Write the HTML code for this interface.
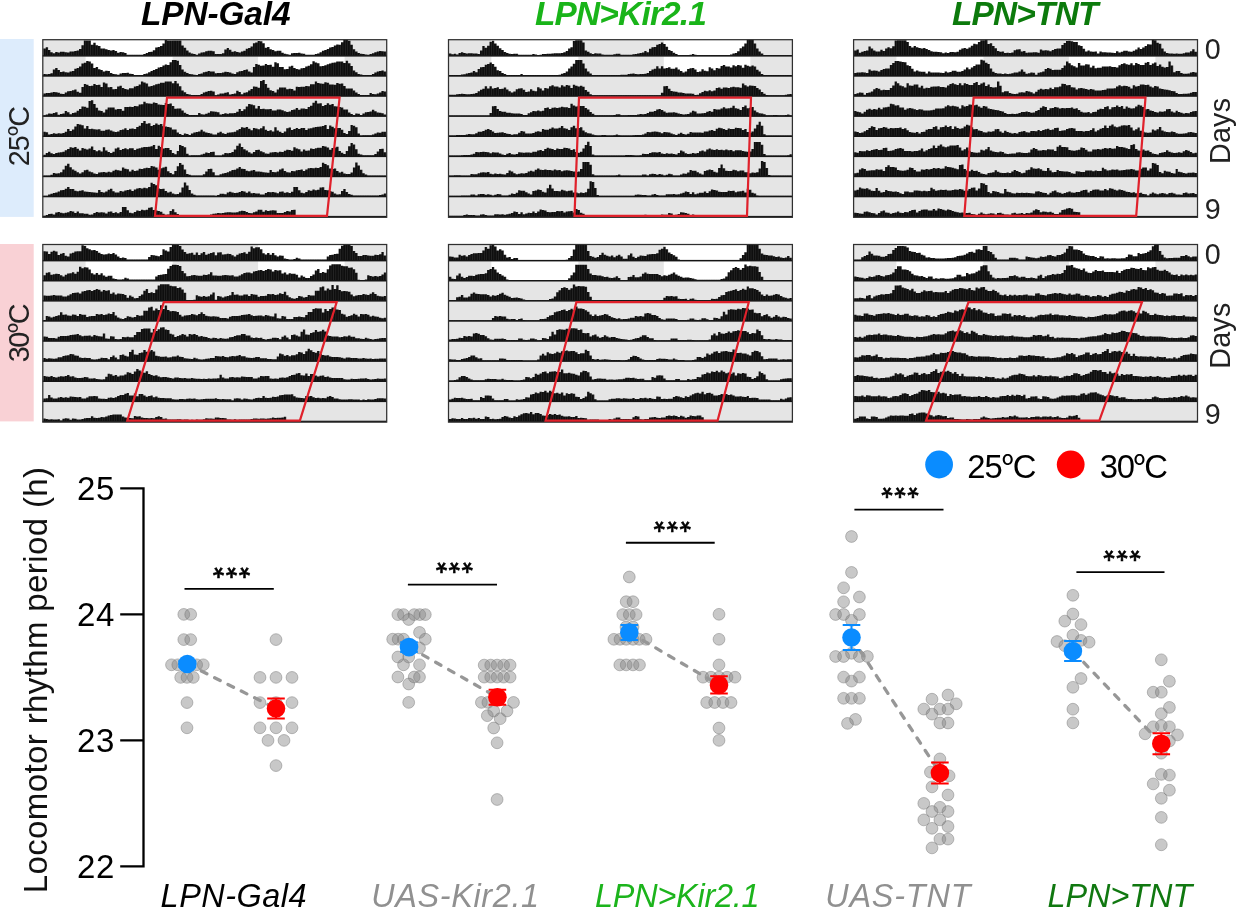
<!DOCTYPE html>
<html><head><meta charset="utf-8"><title>Figure</title>
<style>html,body{margin:0;padding:0;background:#fff}svg{display:block}text{font-family:"Liberation Sans",Arial,sans-serif}</style>
</head><body>
<svg width="1237" height="908" viewBox="0 0 1237 908">
<defs><pattern id="st1" patternUnits="userSpaceOnUse" x="43.30" y="0" width="2.3813" height="10"><rect width="2.3813" height="10" fill="#0e0e0e"/><rect x="1.931" width="0.45" height="10" fill="#363636"/></pattern><pattern id="st2" patternUnits="userSpaceOnUse" x="449.00" y="0" width="2.3812" height="10"><rect width="2.3812" height="10" fill="#0e0e0e"/><rect x="1.931" width="0.45" height="10" fill="#363636"/></pattern><pattern id="st3" patternUnits="userSpaceOnUse" x="854.10" y="0" width="2.3812" height="10"><rect width="2.3812" height="10" fill="#0e0e0e"/><rect x="1.931" width="0.45" height="10" fill="#363636"/></pattern><pattern id="st4" patternUnits="userSpaceOnUse" x="43.30" y="0" width="2.3813" height="10"><rect width="2.3813" height="10" fill="#0e0e0e"/><rect x="1.931" width="0.45" height="10" fill="#363636"/></pattern><pattern id="st5" patternUnits="userSpaceOnUse" x="449.00" y="0" width="2.3812" height="10"><rect width="2.3812" height="10" fill="#0e0e0e"/><rect x="1.931" width="0.45" height="10" fill="#363636"/></pattern><pattern id="st6" patternUnits="userSpaceOnUse" x="854.10" y="0" width="2.3812" height="10"><rect width="2.3812" height="10" fill="#0e0e0e"/><rect x="1.931" width="0.45" height="10" fill="#363636"/></pattern></defs>
<rect width="1237" height="908" fill="#fff"/>
<rect x="42.8" y="39.7" width="343.9" height="176.9" fill="#e5e5e5"/>
<rect x="85.6" y="39.7" width="87.0" height="16.1" fill="#fff"/>
<rect x="258.1" y="39.7" width="86.5" height="16.1" fill="#fff"/>
<rect x="85.6" y="56.5" width="87.0" height="19.4" fill="#fff"/>
<rect x="258.1" y="56.5" width="86.5" height="19.4" fill="#fff"/>
<path d="M43.3 55.8V48.4H45.7V47.2H48.1V50.0H50.4V52.3H52.8V53.3H55.2V52.1H57.6V52.6H60.0V51.8H62.4V51.7H64.7V52.3H67.1V52.6H69.5V51.5H71.9V51.4H74.3V51.0H76.6V50.5H79.0V49.1H81.4V45.3H83.8V40.5H86.2V40.4H88.5V40.4H90.9V44.8H93.3V42.7H95.7V45.2H98.1V46.0H100.5V48.5H102.8V48.5H105.2V49.2H107.6V50.0H110.0V50.6H112.4V49.9H114.7V51.1H117.1V52.7H119.5V51.9H121.9V52.3H124.3V53.1H126.6V54.8H129.0V54.8H131.4V54.8H133.8V54.8H136.2V54.8H138.6V54.8H140.9V54.8H143.3V53.9H145.7V53.1H148.1V52.1H150.5V51.8H152.8V50.2H155.2V47.4H157.6V47.0H160.0V45.9H162.4V43.5H164.7V40.0H167.1V40.6H169.5V40.4H171.9V40.4H174.3V40.4H176.7V40.4H179.0V40.4H181.4V45.5H183.8V47.8H186.2V50.6H188.6V52.4H190.9V53.6H193.3V54.0H195.7V54.8H198.1V53.5H200.5V52.6H202.8V52.3H205.2V51.3H207.6V50.8H210.0V50.8H212.4V51.2H214.8V53.9H217.1V54.1H219.5V54.0H221.9V53.2H224.3V49.4H226.7V47.9H229.0V49.8H231.4V51.8H233.8V51.3H236.2V52.1H238.6V52.4H240.9V51.4H243.3V50.8H245.7V48.7H248.1V47.9H250.5V46.4H252.9V43.3H255.2V42.6H257.6V41.0H260.0V41.3H262.4V43.3H264.8V47.8H267.1V47.0H269.5V49.2H271.9V49.9H274.3V51.3H276.7V50.7H279.0V50.8H281.4V52.8H283.8V53.8H286.2V54.2H288.6V54.7H291.0V53.3H293.3V53.0H295.7V53.0H298.1V52.7H300.5V53.6H302.9V53.8H305.2V54.8H307.6V54.8H310.0V54.8H312.4V54.8H314.8V53.9H317.1V53.5H319.5V52.2H321.9V50.8H324.3V49.9H326.7V49.0H329.1V47.4H331.4V46.9H333.8V45.4H336.2V44.5H338.6V44.8H341.0V42.2H343.3V39.8H345.7V39.8H348.1V40.7H350.5V44.8H352.9V49.3H355.2V51.6H357.6V53.0H360.0V53.8H362.4V54.1H364.8V54.6H367.2V54.8H369.5V53.9H371.9V53.3H374.3V52.2H376.7V51.6H379.1V50.9H381.4V51.3H383.8V51.4H386.2V55.8Z" fill="url(#st1)"/>
<rect x="42.6" y="55.1" width="344.3" height="1.5" fill="#141414"/>
<path d="M43.3 75.9V74.0H45.7V74.2H48.1V74.1H50.4V73.3H52.8V69.5H55.2V68.0H57.6V69.9H60.0V71.9H62.4V71.4H64.7V72.2H67.1V72.5H69.5V71.5H71.9V70.9H74.3V68.8H76.6V68.0H79.0V66.5H81.4V63.4H83.8V62.7H86.2V61.1H88.5V61.4H90.9V63.4H93.3V67.9H95.7V67.1H98.1V69.3H100.5V70.0H102.8V71.4H105.2V70.8H107.6V70.9H110.0V72.9H112.4V73.9H114.7V74.3H117.1V74.8H119.5V73.4H121.9V73.1H124.3V73.1H126.6V72.8H129.0V73.7H131.4V73.9H133.8V74.9H136.2V74.9H138.6V74.9H140.9V74.9H143.3V74.0H145.7V73.6H148.1V72.3H150.5V70.9H152.8V70.0H155.2V69.1H157.6V67.5H160.0V67.0H162.4V65.5H164.7V64.6H167.1V64.9H169.5V62.3H171.9V59.9H174.3V59.9H176.7V60.8H179.0V64.9H181.4V69.4H183.8V71.7H186.2V73.1H188.6V73.9H190.9V74.2H193.3V74.7H195.7V74.9H198.1V74.0H200.5V73.4H202.8V72.3H205.2V71.7H207.6V71.0H210.0V71.4H212.4V71.5H214.8V73.3H217.1V72.9H219.5V73.0H221.9V72.4H224.3V71.8H226.7V72.1H229.0V72.6H231.4V73.6H233.8V74.0H236.2V72.3H238.6V71.2H240.9V70.9H243.3V70.1H245.7V69.5H248.1V71.6H250.5V72.6H252.9V67.0H255.2V63.9H257.6V64.7H260.0V65.8H262.4V65.6H264.8V64.0H267.1V64.9H269.5V64.7H271.9V66.8H274.3V62.3H276.7V63.3H279.0V67.1H281.4V66.9H283.8V69.2H286.2V68.9H288.6V66.4H291.0V65.7H293.3V67.9H295.7V68.9H298.1V69.4H300.5V68.2H302.9V68.1H305.2V66.5H307.6V65.8H310.0V64.3H312.4V61.3H314.8V62.5H317.1V63.3H319.5V66.3H321.9V65.9H324.3V65.2H326.7V64.2H329.1V63.6H331.4V62.7H333.8V62.6H336.2V61.4H338.6V61.4H341.0V61.4H343.3V63.1H345.7V60.8H348.1V63.3H350.5V66.1H352.9V70.4H355.2V72.2H357.6V73.9H360.0V74.5H362.4V74.9H364.8V74.9H367.2V74.9H369.5V74.9H371.9V73.9H374.3V72.4H376.7V71.6H379.1V71.0H381.4V70.6H383.8V71.5H386.2V75.9Z" fill="url(#st1)"/>
<rect x="42.6" y="75.2" width="344.3" height="1.5" fill="#141414"/>
<path d="M43.3 96.0V93.4H45.7V93.0H48.1V93.1H50.4V92.5H52.8V91.9H55.2V92.2H57.6V92.7H60.0V93.7H62.4V94.1H64.7V92.4H67.1V91.3H69.5V91.0H71.9V90.2H74.3V89.6H76.6V91.7H79.0V92.7H81.4V87.1H83.8V84.0H86.2V84.8H88.5V85.9H90.9V85.7H93.3V84.1H95.7V85.0H98.1V84.8H100.5V86.9H102.8V82.4H105.2V83.4H107.6V87.2H110.0V87.0H112.4V89.3H114.7V89.0H117.1V86.5H119.5V85.8H121.9V88.0H124.3V89.0H126.6V89.5H129.0V88.3H131.4V88.2H133.8V86.6H136.2V85.9H138.6V84.4H140.9V81.4H143.3V82.6H145.7V83.4H148.1V86.4H150.5V86.0H152.8V85.3H155.2V84.3H157.6V83.7H160.0V82.8H162.4V82.7H164.7V81.5H167.1V81.5H169.5V81.5H171.9V83.2H174.3V80.9H176.7V83.4H179.0V86.2H181.4V90.5H183.8V92.3H186.2V94.0H188.6V94.6H190.9V95.0H193.3V95.0H195.7V95.0H198.1V95.0H200.5V94.0H202.8V92.5H205.2V91.7H207.6V91.1H210.0V90.7H212.4V91.6H214.8V95.2H217.1V94.5H219.5V93.4H221.9V93.6H224.3V92.8H226.7V92.2H229.0V94.6H231.4V93.9H233.8V93.4H236.2V90.8H238.6V92.1H240.9V94.2H243.3V92.8H245.7V92.3H248.1V90.6H250.5V89.0H252.9V86.4H255.2V86.7H257.6V87.7H260.0V80.9H262.4V80.1H264.8V83.9H267.1V87.7H269.5V90.3H271.9V91.0H274.3V92.5H276.7V89.4H279.0V87.4H281.4V87.5H283.8V87.5H286.2V89.3H288.6V88.8H291.0V88.9H293.3V90.6H295.7V86.8H298.1V87.0H300.5V86.7H302.9V86.8H305.2V85.9H307.6V86.2H310.0V84.3H312.4V84.2H314.8V81.6H317.1V83.1H319.5V83.5H321.9V83.7H324.3V82.3H326.7V82.8H329.1V84.5H331.4V84.6H333.8V84.8H336.2V83.0H338.6V83.8H341.0V83.5H343.3V86.0H345.7V88.6H348.1V88.4H350.5V88.4H352.9V90.5H355.2V92.6H357.6V93.9H360.0V94.9H362.4V95.0H364.8V95.0H367.2V95.0H369.5V93.0H371.9V94.1H374.3V94.3H376.7V93.6H379.1V92.6H381.4V91.1H383.8V91.4H386.2V96.0Z" fill="url(#st1)"/>
<rect x="42.6" y="95.3" width="344.3" height="1.5" fill="#141414"/>
<path d="M43.3 116.1V115.3H45.7V114.6H48.1V113.5H50.4V113.7H52.8V112.9H55.2V112.3H57.6V114.7H60.0V114.0H62.4V113.5H64.7V110.9H67.1V112.2H69.5V114.3H71.9V112.9H74.3V112.4H76.6V110.7H79.0V109.1H81.4V106.5H83.8V106.8H86.2V107.8H88.5V101.0H90.9V100.2H93.3V104.0H95.7V107.8H98.1V110.4H100.5V111.1H102.8V112.6H105.2V109.5H107.6V107.5H110.0V107.6H112.4V107.6H114.7V109.4H117.1V108.9H119.5V109.0H121.9V110.7H124.3V106.9H126.6V107.1H129.0V106.8H131.4V106.9H133.8V106.0H136.2V106.3H138.6V104.4H140.9V104.3H143.3V101.7H145.7V103.2H148.1V103.6H150.5V103.8H152.8V102.4H155.2V102.9H157.6V104.6H160.0V104.7H162.4V104.9H164.7V103.1H167.1V103.9H169.5V103.6H171.9V106.1H174.3V108.7H176.7V108.5H179.0V108.5H181.4V110.6H183.8V112.7H186.2V114.0H188.6V115.0H190.9V115.1H193.3V115.1H195.7V115.1H198.1V113.1H200.5V114.2H202.8V114.4H205.2V113.7H207.6V112.7H210.0V111.2H212.4V111.5H214.8V111.7H217.1V112.2H219.5V114.4H221.9V114.0H224.3V113.2H226.7V113.7H229.0V113.2H231.4V113.3H233.8V112.9H236.2V111.7H238.6V109.0H240.9V111.0H243.3V109.3H245.7V106.5H248.1V104.0H250.5V104.4H252.9V105.2H255.2V108.5H257.6V106.0H260.0V109.0H262.4V108.7H264.8V109.2H267.1V109.3H269.5V109.1H271.9V110.6H274.3V110.6H276.7V109.6H279.0V109.5H281.4V110.3H283.8V111.3H286.2V111.9H288.6V111.4H291.0V110.0H293.3V109.4H295.7V108.1H298.1V109.8H300.5V108.6H302.9V108.4H305.2V108.9H307.6V106.9H310.0V105.7H312.4V102.8H314.8V100.8H317.1V103.6H319.5V103.2H321.9V105.9H324.3V104.9H326.7V103.3H329.1V104.7H331.4V104.0H333.8V106.2H336.2V106.5H338.6V106.9H341.0V107.4H343.3V109.5H345.7V109.4H348.1V112.5H350.5V113.9H352.9V115.0H355.2V113.5H357.6V113.8H360.0V115.0H362.4V113.5H364.8V112.3H367.2V112.0H369.5V111.4H371.9V109.7H374.3V111.3H376.7V112.5H379.1V112.8H381.4V113.3H383.8V114.4H386.2V116.1Z" fill="url(#st1)"/>
<rect x="42.6" y="115.4" width="344.3" height="1.5" fill="#141414"/>
<path d="M43.3 136.2V131.8H45.7V132.3H48.1V134.5H50.4V134.1H52.8V133.3H55.2V133.8H57.6V133.3H60.0V133.4H62.4V133.0H64.7V131.8H67.1V129.1H69.5V131.1H71.9V129.4H74.3V126.6H76.6V124.1H79.0V124.5H81.4V125.3H83.8V128.6H86.2V126.1H88.5V129.1H90.9V128.8H93.3V129.3H95.7V129.4H98.1V129.2H100.5V130.7H102.8V130.7H105.2V129.7H107.6V129.6H110.0V130.4H112.4V131.4H114.7V132.0H117.1V131.5H119.5V130.1H121.9V129.5H124.3V128.2H126.6V129.9H129.0V128.7H131.4V128.5H133.8V129.0H136.2V127.0H138.6V125.8H140.9V122.9H143.3V120.9H145.7V123.7H148.1V123.3H150.5V126.0H152.8V125.0H155.2V123.4H157.6V124.8H160.0V124.1H162.4V126.3H164.7V126.6H167.1V127.0H169.5V127.5H171.9V129.6H174.3V129.5H176.7V132.6H179.0V134.0H181.4V135.1H183.8V133.6H186.2V133.9H188.6V135.1H190.9V133.6H193.3V132.4H195.7V132.1H198.1V131.5H200.5V129.8H202.8V131.4H205.2V132.6H207.6V132.9H210.0V133.4H212.4V134.5H214.8V134.6H217.1V132.8H219.5V131.7H221.9V133.2H224.3V133.9H226.7V132.8H229.0V132.5H231.4V132.2H233.8V131.7H236.2V130.2H238.6V129.0H240.9V127.2H243.3V127.7H245.7V127.0H248.1V128.7H250.5V130.3H252.9V128.0H255.2V128.6H257.6V129.3H260.0V128.3H262.4V126.3H264.8V129.8H267.1V131.1H269.5V130.2H271.9V131.5H274.3V127.2H276.7V130.4H279.0V131.8H281.4V133.0H283.8V131.6H286.2V128.3H288.6V127.4H291.0V129.9H293.3V129.0H295.7V128.1H298.1V129.1H300.5V128.1H302.9V128.1H305.2V130.0H307.6V128.6H310.0V128.2H312.4V127.4H314.8V126.9H317.1V126.8H319.5V126.6H321.9V126.1H324.3V125.0H326.7V128.9H329.1V125.6H331.4V126.8H333.8V128.3H336.2V127.9H338.6V128.0H341.0V129.8H343.3V132.9H345.7V134.1H348.1V131.0H350.5V125.0H352.9V125.8H355.2V127.2H357.6V133.6H360.0V135.4H362.4V135.2H364.8V135.2H367.2V135.2H369.5V135.2H371.9V134.5H374.3V133.6H376.7V132.4H379.1V132.8H381.4V131.8H383.8V131.7H386.2V136.2Z" fill="url(#st1)"/>
<rect x="42.6" y="135.5" width="344.3" height="1.5" fill="#141414"/>
<path d="M43.3 156.3V154.7H45.7V152.9H48.1V151.8H50.4V153.3H52.8V154.0H55.2V152.9H57.6V152.6H60.0V152.3H62.4V151.8H64.7V150.3H67.1V149.1H69.5V147.3H71.9V147.8H74.3V147.1H76.6V148.8H79.0V150.4H81.4V148.1H83.8V148.7H86.2V149.4H88.5V148.4H90.9V146.4H93.3V149.9H95.7V151.2H98.1V150.3H100.5V151.6H102.8V147.3H105.2V150.5H107.6V151.9H110.0V153.1H112.4V151.7H114.7V148.4H117.1V147.5H119.5V150.0H121.9V149.1H124.3V148.2H126.6V149.2H129.0V148.2H131.4V148.2H133.8V150.1H136.2V148.7H138.6V148.3H140.9V147.5H143.3V147.0H145.7V146.9H148.1V146.7H150.5V146.2H152.8V145.1H155.2V149.0H157.6V145.7H160.0V146.9H162.4V148.4H164.7V148.0H167.1V148.1H169.5V149.9H171.9V153.0H174.3V154.2H176.7V151.1H179.0V145.1H181.4V145.9H183.8V147.3H186.2V153.7H188.6V155.5H190.9V155.3H193.3V155.3H195.7V155.3H198.1V155.3H200.5V154.6H202.8V153.7H205.2V152.5H207.6V152.9H210.0V151.9H212.4V151.8H214.8V155.5H217.1V155.5H219.5V155.5H221.9V154.6H224.3V152.9H226.7V153.3H229.0V153.1H231.4V152.1H233.8V149.4H236.2V145.7H238.6V143.6H240.9V147.1H243.3V149.3H245.7V150.6H248.1V152.2H250.5V153.4H252.9V152.1H255.2V150.1H257.6V149.7H260.0V151.3H262.4V152.2H264.8V153.5H267.1V153.8H269.5V152.5H271.9V152.2H274.3V152.0H276.7V152.4H279.0V151.7H281.4V152.1H283.8V150.7H286.2V149.7H288.6V150.1H291.0V150.7H293.3V147.3H295.7V148.6H298.1V149.2H300.5V151.4H302.9V149.6H305.2V150.8H307.6V150.4H310.0V148.6H312.4V148.9H314.8V148.2H317.1V147.7H319.5V147.8H321.9V146.0H324.3V146.4H326.7V147.5H329.1V149.7H331.4V148.1H333.8V147.4H336.2V146.7H338.6V151.1H341.0V152.8H343.3V154.1H345.7V150.9H348.1V146.2H350.5V143.0H352.9V144.6H355.2V149.3H357.6V153.8H360.0V154.6H362.4V155.3H364.8V155.3H367.2V155.3H369.5V155.3H371.9V155.3H374.3V154.1H376.7V151.5H379.1V148.9H381.4V148.7H383.8V152.2H386.2V156.3Z" fill="url(#st1)"/>
<rect x="42.6" y="155.6" width="344.3" height="1.5" fill="#141414"/>
<path d="M43.3 176.4V175.6H45.7V175.6H48.1V175.6H50.4V174.7H52.8V173.0H55.2V173.4H57.6V173.2H60.0V172.2H62.4V169.5H64.7V165.8H67.1V163.7H69.5V167.2H71.9V169.4H74.3V170.7H76.6V172.3H79.0V173.5H81.4V172.2H83.8V170.2H86.2V169.8H88.5V171.4H90.9V172.3H93.3V173.6H95.7V173.9H98.1V172.6H100.5V172.3H102.8V172.1H105.2V172.5H107.6V171.8H110.0V172.2H112.4V170.8H114.7V169.8H117.1V170.2H119.5V170.8H121.9V167.4H124.3V168.7H126.6V169.3H129.0V171.5H131.4V169.7H133.8V170.9H136.2V170.5H138.6V168.7H140.9V169.0H143.3V168.3H145.7V167.8H148.1V167.9H150.5V166.1H152.8V166.5H155.2V167.6H157.6V169.8H160.0V168.2H162.4V167.5H164.7V166.8H167.1V171.2H169.5V172.9H171.9V174.2H174.3V171.0H176.7V166.3H179.0V163.1H181.4V164.7H183.8V169.4H186.2V173.9H188.6V174.7H190.9V175.4H193.3V175.4H195.7V175.4H198.1V175.4H200.5V175.4H202.8V174.2H205.2V171.6H207.6V169.0H210.0V168.8H212.4V172.3H214.8V175.6H217.1V175.6H219.5V174.3H221.9V173.6H224.3V173.0H226.7V172.3H229.0V171.3H231.4V170.1H233.8V169.8H236.2V168.6H238.6V167.0H240.9V168.8H243.3V168.9H245.7V170.7H248.1V171.2H250.5V170.6H252.9V170.1H255.2V171.5H257.6V171.6H260.0V171.8H262.4V172.2H264.8V172.4H267.1V172.7H269.5V169.9H271.9V171.9H274.3V172.3H276.7V171.5H279.0V169.6H281.4V168.6H283.8V171.1H286.2V172.3H288.6V172.4H291.0V171.0H293.3V171.3H295.7V170.3H298.1V170.0H300.5V169.5H302.9V170.9H305.2V169.4H307.6V168.3H310.0V168.0H312.4V168.3H314.8V167.7H317.1V168.1H319.5V167.0H321.9V162.7H324.3V164.0H326.7V165.2H329.1V168.4H331.4V168.9H333.8V168.6H336.2V171.0H338.6V172.5H341.0V171.7H343.3V173.4H345.7V174.1H348.1V174.0H350.5V172.5H352.9V167.5H355.2V162.4H357.6V165.5H360.0V169.8H362.4V173.3H364.8V174.6H367.2V175.5H369.5V175.5H371.9V175.5H374.3V175.5H376.7V175.5H379.1V175.5H381.4V175.5H383.8V175.5H386.2V176.4Z" fill="url(#st1)"/>
<rect x="42.6" y="175.7" width="344.3" height="1.5" fill="#141414"/>
<path d="M43.3 196.5V195.7H45.7V195.7H48.1V194.4H50.4V193.7H52.8V193.1H55.2V192.4H57.6V191.4H60.0V190.2H62.4V189.9H64.7V188.7H67.1V187.1H69.5V188.9H71.9V189.0H74.3V190.8H76.6V191.3H79.0V190.7H81.4V190.2H83.8V191.6H86.2V191.7H88.5V191.9H90.9V192.3H93.3V192.5H95.7V192.8H98.1V190.0H100.5V192.0H102.8V192.4H105.2V191.6H107.6V189.7H110.0V188.7H112.4V191.2H114.7V192.4H117.1V192.5H119.5V191.1H121.9V191.4H124.3V190.4H126.6V190.1H129.0V189.6H131.4V191.0H133.8V189.5H136.2V188.4H138.6V188.1H140.9V188.4H143.3V187.8H145.7V188.2H148.1V187.1H150.5V182.8H152.8V184.1H155.2V185.3H157.6V188.5H160.0V189.0H162.4V188.7H164.7V191.1H167.1V192.6H169.5V191.8H171.9V193.5H174.3V194.2H176.7V194.1H179.0V192.6H181.4V187.6H183.8V182.5H186.2V185.6H188.6V189.9H190.9V193.4H193.3V194.7H195.7V195.6H198.1V195.6H200.5V195.6H202.8V195.6H205.2V195.6H207.6V195.6H210.0V195.6H212.4V195.6H214.8V195.7H217.1V194.9H219.5V193.8H221.9V193.7H224.3V194.3H226.7V192.5H229.0V191.8H231.4V192.6H233.8V193.1H236.2V192.7H238.6V192.1H240.9V190.9H243.3V191.4H245.7V192.8H248.1V191.5H250.5V193.2H252.9V193.1H255.2V193.6H257.6V193.6H260.0V194.6H262.4V194.4H264.8V193.0H267.1V191.9H269.5V192.3H271.9V192.1H274.3V192.4H276.7V193.3H279.0V191.7H281.4V191.4H283.8V192.8H286.2V192.2H288.6V193.1H291.0V191.8H293.3V187.0H295.7V186.9H298.1V190.2H300.5V192.7H302.9V193.2H305.2V191.9H307.6V190.3H310.0V190.8H312.4V189.6H314.8V190.2H317.1V189.7H319.5V187.6H321.9V187.2H324.3V189.9H326.7V190.3H329.1V190.9H331.4V191.7H333.8V193.6H336.2V194.6H338.6V194.3H341.0V191.0H343.3V189.1H345.7V192.1H348.1V194.0H350.5V194.8H352.9V195.5H355.2V195.5H357.6V195.5H360.0V195.5H362.4V195.5H364.8V195.5H367.2V195.5H369.5V195.5H371.9V195.5H374.3V195.5H376.7V195.5H379.1V195.0H381.4V194.5H383.8V193.6H386.2V196.5Z" fill="url(#st1)"/>
<rect x="42.6" y="195.8" width="344.3" height="1.5" fill="#141414"/>
<path d="M43.3 216.6V215.8H45.7V215.0H48.1V213.9H50.4V213.8H52.8V214.4H55.2V212.6H57.6V211.9H60.0V212.7H62.4V213.2H64.7V212.8H67.1V212.2H69.5V211.0H71.9V211.5H74.3V212.9H76.6V211.6H79.0V213.3H81.4V213.2H83.8V213.7H86.2V213.7H88.5V214.7H90.9V214.5H93.3V213.1H95.7V212.0H98.1V212.4H100.5V212.2H102.8V212.5H105.2V213.4H107.6V211.8H110.0V211.5H112.4V212.9H114.7V212.3H117.1V213.2H119.5V211.9H121.9V207.1H124.3V207.0H126.6V210.3H129.0V212.8H131.4V213.3H133.8V212.0H136.2V210.4H138.6V210.9H140.9V209.7H143.3V210.3H145.7V209.8H148.1V207.7H150.5V207.3H152.8V210.0H155.2V210.4H157.6V211.0H160.0V211.8H162.4V213.7H164.7V214.7H167.1V214.4H169.5V211.1H171.9V209.2H174.3V212.2H176.7V214.1H179.0V214.9H181.4V215.6H183.8V215.6H186.2V215.6H188.6V215.6H190.9V215.6H193.3V215.6H195.7V215.6H198.1V215.6H200.5V215.6H202.8V215.6H205.2V215.6H207.6V215.1H210.0V214.6H212.4V213.7H214.8V213.6H217.1V212.9H219.5V213.3H221.9V212.9H224.3V212.6H226.7V212.3H229.0V212.3H231.4V212.6H233.8V212.4H236.2V212.3H238.6V211.2H240.9V210.7H243.3V211.0H245.7V211.9H248.1V213.1H250.5V213.3H252.9V212.2H255.2V211.5H257.6V209.7H260.0V209.7H262.4V211.8H264.8V210.2H267.1V211.0H269.5V210.6H271.9V210.3H274.3V210.5H276.7V213.1H279.0V212.9H281.4V213.0H283.8V212.0H286.2V210.9H288.6V211.4H291.0V209.9H293.3V209.7H295.7H295.7V216.6Z" fill="url(#st1)"/>
<rect x="42.6" y="215.9" width="344.3" height="1.5" fill="#141414"/>
<rect x="42.8" y="39.7" width="343.9" height="177.6" fill="none" stroke="#303030" stroke-width="1.25"/>
<polygon points="167.0,97.6 339.6,97.6 327.0,215.8 155.0,215.8" fill="none" stroke="#e0212b" stroke-width="2.2" stroke-linejoin="miter"/>
<rect x="448.5" y="39.7" width="343.9" height="176.9" fill="#e5e5e5"/>
<rect x="491.3" y="39.7" width="87.0" height="16.1" fill="#fff"/>
<rect x="663.8" y="39.7" width="86.5" height="16.1" fill="#fff"/>
<rect x="491.3" y="56.5" width="87.0" height="19.4" fill="#fff"/>
<rect x="663.8" y="56.5" width="86.5" height="19.4" fill="#fff"/>
<path d="M449.0 55.8V53.4H451.4V54.2H453.8V53.7H456.1V54.6H458.5V52.9H460.9V52.3H463.3V52.9H465.7V53.4H468.1V53.3H470.4V53.2H472.8V53.4H475.2V53.5H477.6V53.9H480.0V50.5H482.3V45.9H484.7V47.8H487.1V45.8H489.5V41.8H491.9V40.8H494.2V43.5H496.6V45.7H499.0V48.2H501.4V50.0H503.8V52.1H506.2V53.0H508.5V53.8H510.9V53.9H513.3V53.7H515.7V53.8H518.1V54.8H520.4V54.8H522.8V54.8H525.2V54.8H527.6V54.8H530.0V54.7H532.3V54.0H534.7V54.6H537.1V55.0H539.5V54.7H541.9V53.9H544.2V53.9H546.6V53.8H549.0V53.8H551.4V53.4H553.8V53.2H556.2V53.2H558.5V53.2H560.9V52.9H563.3V52.2H565.7V50.9H568.1V48.4H570.4V47.2H572.8V41.1H575.2V40.3H577.6V40.3H580.0V40.3H582.4V42.6H584.7V50.6H587.1V51.7H589.5V53.3H591.9V53.9H594.3V53.2H596.6V53.6H599.0V53.5H601.4V54.6H603.8V54.8H606.2V54.8H608.5V54.8H610.9V54.8H613.3V54.2H615.7V53.8H618.1V53.8H620.4V54.8H622.8V54.8H625.2V54.8H627.6V54.8H630.0V54.8H632.4V54.3H634.7V54.1H637.1V53.4H639.5V52.9H641.9V52.4H644.3V50.9H646.6V52.2H649.0V48.8H651.4V47.2H653.8V46.9H656.2V44.7H658.5V43.9H660.9V42.5H663.3V43.9H665.7V46.7H668.1V50.1H670.5V51.0H672.8V52.8H675.2V54.0H677.6V55.0H680.0V55.0H682.4V55.0H684.7V55.0H687.1V55.0H689.5V54.8H691.9V53.9H694.3V54.8H696.6V54.9H699.0V54.9H701.4V54.9H703.8V54.9H706.2V54.9H708.6V54.9H710.9V54.9H713.3V54.9H715.7V54.9H718.1V54.9H720.5V54.9H722.8V54.9H725.2V54.9H727.6V54.9H730.0V54.6H732.4V53.6H734.8V53.0H737.1V51.3H739.5V48.3H741.9V46.4H744.3V43.6H746.7V39.8H749.0V39.8H751.4V39.8H753.8V43.4H756.2V48.4H758.6V51.4H760.9V53.5H763.3V54.9H765.7V54.9H768.1V54.9H770.5V54.9H772.9V54.9H775.2V54.9H777.6V54.9H780.0V54.9H782.4V54.9H784.8V54.9H787.1V54.9H789.5V54.9H791.9V55.8Z" fill="url(#st2)"/>
<rect x="448.3" y="55.1" width="344.3" height="1.5" fill="#141414"/>
<path d="M449.0 75.9V74.9H451.4V74.9H453.8V74.9H456.1V74.9H458.5V74.9H460.9V74.4H463.3V74.2H465.7V73.5H468.1V73.0H470.4V72.5H472.8V71.0H475.2V72.3H477.6V68.9H480.0V67.3H482.3V67.0H484.7V64.8H487.1V64.0H489.5V62.6H491.9V64.0H494.2V66.8H496.6V70.2H499.0V71.1H501.4V72.9H503.8V74.1H506.2V75.1H508.5V75.1H510.9V75.1H513.3V75.1H515.7V75.1H518.1V74.9H520.4V74.0H522.8V74.9H525.2V75.0H527.6V75.0H530.0V75.0H532.3V75.0H534.7V75.0H537.1V75.0H539.5V75.0H541.9V75.0H544.2V75.0H546.6V75.0H549.0V75.0H551.4V75.0H553.8V75.0H556.2V75.0H558.5V74.7H560.9V73.7H563.3V73.1H565.7V71.4H568.1V68.4H570.4V66.5H572.8V63.7H575.2V59.9H577.6V59.9H580.0V59.9H582.4V63.5H584.7V68.5H587.1V71.5H589.5V73.6H591.9V75.0H594.3V75.0H596.6V75.0H599.0V75.0H601.4V75.0H603.8V75.0H606.2V75.0H608.5V75.0H610.9V75.0H613.3V75.0H615.7V75.0H618.1V75.0H620.4V74.7H622.8V74.7H625.2V74.7H627.6V74.1H630.0V73.8H632.4V73.6H634.7V73.9H637.1V74.2H639.5V74.1H641.9V74.0H644.3V73.7H646.6V72.9H649.0V71.1H651.4V69.6H653.8V68.7H656.2V66.2H658.5V68.4H660.9V66.2H663.3V68.4H665.7V67.9H668.1V67.2H670.5V68.8H672.8V68.7H675.2V67.4H677.6V69.5H680.0V71.1H682.4V72.5H684.7V71.4H687.1V69.1H689.5V68.3H691.9V68.1H694.3V69.6H696.6V71.9H699.0V71.5H701.4V69.2H703.8V70.7H706.2V71.2H708.6V67.2H710.9V68.4H713.3V70.3H715.7V68.0H718.1V68.5H720.5V66.1H722.8V65.1H725.2V66.4H727.6V66.5H730.0V67.4H732.4V65.2H734.8V66.3H737.1V64.9H739.5V65.4H741.9V67.8H744.3V64.7H746.7V65.7H749.0V66.4H751.4V65.6H753.8V66.6H756.2V69.8H758.6V71.6H760.9V74.1H763.3V75.1H765.7V75.1H768.1V75.1H770.5V75.1H772.9V75.1H775.2V75.1H777.6V75.1H780.0V75.1H782.4V75.1H784.8V75.1H787.1V75.1H789.5V75.1H791.9V75.9Z" fill="url(#st2)"/>
<rect x="448.3" y="75.2" width="344.3" height="1.5" fill="#141414"/>
<path d="M449.0 96.0V94.8H451.4V94.8H453.8V94.8H456.1V94.2H458.5V93.9H460.9V93.7H463.3V94.0H465.7V94.3H468.1V94.2H470.4V94.1H472.8V93.8H475.2V93.0H477.6V91.2H480.0V89.7H482.3V88.8H484.7V86.3H487.1V88.5H489.5V86.3H491.9V88.5H494.2V88.0H496.6V87.3H499.0V88.9H501.4V88.8H503.8V87.5H506.2V89.6H508.5V91.2H510.9V92.6H513.3V91.5H515.7V89.2H518.1V88.4H520.4V88.2H522.8V89.7H525.2V92.0H527.6V91.6H530.0V89.3H532.3V90.8H534.7V91.3H537.1V87.3H539.5V88.5H541.9V90.4H544.2V88.1H546.6V88.6H549.0V86.2H551.4V85.2H553.8V86.5H556.2V86.6H558.5V87.5H560.9V85.3H563.3V86.4H565.7V85.0H568.1V85.5H570.4V87.9H572.8V84.8H575.2V85.8H577.6V86.5H580.0V85.7H582.4V86.7H584.7V89.9H587.1V91.7H589.5V94.2H591.9V95.2H594.3V95.2H596.6V95.2H599.0V95.2H601.4V95.2H603.8V95.2H606.2V95.2H608.5V95.2H610.9V95.2H613.3V95.2H615.7V95.2H618.1V95.2H620.4V95.3H622.8V95.3H625.2V95.3H627.6V95.3H630.0V95.3H632.4V95.3H634.7V95.3H637.1V95.3H639.5V95.3H641.9V95.3H644.3V95.3H646.6V95.3H649.0V95.3H651.4V95.3H653.8V95.3H656.2V95.3H658.5V95.3H660.9V92.8H663.3V86.2H665.7V85.9H668.1V88.8H670.5V90.9H672.8V91.6H675.2V91.7H677.6V92.6H680.0V92.6H682.4V93.1H684.7V93.5H687.1V93.4H689.5V93.5H691.9V93.8H694.3V95.0H696.6V94.8H699.0V93.2H701.4V92.1H703.8V90.8H706.2V91.2H708.6V90.3H710.9V91.2H713.3V90.6H715.7V88.0H718.1V87.4H720.5V88.8H722.8V87.6H725.2V87.4H727.6V87.9H730.0V87.3H732.4V86.7H734.8V87.2H737.1V87.2H739.5V87.8H741.9V83.6H744.3V85.3H746.7V86.5H749.0V85.6H751.4V85.8H753.8V86.0H756.2V88.0H758.6V89.4H760.9V92.0H763.3V93.7H765.7V95.1H768.1V95.2H770.5V95.2H772.9V95.2H775.2V95.2H777.6V95.2H780.0V95.2H782.4V95.2H784.8V94.8H787.1V94.2H789.5V94.1H791.9V96.0Z" fill="url(#st2)"/>
<rect x="448.3" y="95.3" width="344.3" height="1.5" fill="#141414"/>
<path d="M449.0 116.1V115.4H451.4V115.4H453.8V115.4H456.1V115.4H458.5V115.4H460.9V115.4H463.3V115.4H465.7V115.4H468.1V115.4H470.4V115.4H472.8V115.4H475.2V115.4H477.6V115.4H480.0V115.4H482.3V115.4H484.7V115.4H487.1V115.4H489.5V112.9H491.9V106.3H494.2V106.0H496.6V108.9H499.0V111.0H501.4V111.7H503.8V111.8H506.2V112.7H508.5V112.7H510.9V113.2H513.3V113.6H515.7V113.5H518.1V113.6H520.4V113.9H522.8V115.1H525.2V114.9H527.6V113.3H530.0V112.2H532.3V110.9H534.7V111.3H537.1V110.4H539.5V111.3H541.9V110.7H544.2V108.1H546.6V107.5H549.0V108.9H551.4V107.7H553.8V107.5H556.2V108.0H558.5V107.4H560.9V106.8H563.3V107.3H565.7V107.3H568.1V107.9H570.4V103.7H572.8V105.4H575.2V106.6H577.6V105.7H580.0V105.9H582.4V106.1H584.7V108.1H587.1V109.5H589.5V112.1H591.9V113.8H594.3V115.2H596.6V115.3H599.0V115.3H601.4V115.3H603.8V115.3H606.2V115.3H608.5V115.3H610.9V115.3H613.3V114.9H615.7V114.3H618.1V114.2H620.4V115.3H622.8V115.3H625.2V115.3H627.6V114.9H630.0V114.9H632.4V114.9H634.7V114.9H637.1V114.5H639.5V114.0H641.9V114.2H644.3V114.1H646.6V113.1H649.0V111.7H651.4V111.7H653.8V110.9H656.2V109.6H658.5V109.0H660.9V110.0H663.3V111.4H665.7V112.8H668.1V112.6H670.5V112.4H672.8V112.2H675.2V112.8H677.6V113.6H680.0V114.0H682.4V114.6H684.7V114.2H687.1V114.1H689.5V112.6H691.9V110.8H694.3V111.5H696.6V113.5H699.0V113.4H701.4V113.3H703.8V113.0H706.2V111.7H708.6V111.1H710.9V111.7H713.3V108.9H715.7V109.6H718.1V109.6H720.5V108.6H722.8V107.3H725.2V108.5H727.6V108.3H730.0V107.7H732.4V105.8H734.8V108.2H737.1V108.7H739.5V109.9H741.9V107.1H744.3V105.6H746.7V108.2H749.0V107.8H751.4V107.1H753.8V110.4H756.2V112.2H758.6V113.2H760.9V113.4H763.3V114.3H765.7V115.2H768.1V115.3H770.5V115.3H772.9V114.9H775.2V115.0H777.6V115.3H780.0V115.3H782.4V115.3H784.8V115.1H787.1V114.5H789.5V115.2H791.9V116.1Z" fill="url(#st2)"/>
<rect x="448.3" y="115.4" width="344.3" height="1.5" fill="#141414"/>
<path d="M449.0 136.2V135.4H451.4V135.4H453.8V135.4H456.1V135.0H458.5V135.0H460.9V135.0H463.3V135.0H465.7V134.6H468.1V134.1H470.4V134.3H472.8V134.2H475.2V133.2H477.6V131.8H480.0V131.8H482.3V131.0H484.7V129.7H487.1V129.1H489.5V130.1H491.9V131.5H494.2V132.9H496.6V132.7H499.0V132.5H501.4V132.3H503.8V132.9H506.2V133.7H508.5V134.1H510.9V134.7H513.3V134.3H515.7V134.2H518.1V132.7H520.4V130.9H522.8V131.6H525.2V133.6H527.6V133.5H530.0V133.4H532.3V133.1H534.7V131.8H537.1V131.2H539.5V131.8H541.9V129.0H544.2V129.7H546.6V129.7H549.0V128.7H551.4V127.4H553.8V128.6H556.2V128.4H558.5V127.8H560.9V125.9H563.3V128.3H565.7V128.8H568.1V130.0H570.4V127.2H572.8V125.7H575.2V128.3H577.6V127.9H580.0V127.2H582.4V130.5H584.7V132.3H587.1V133.3H589.5V133.5H591.9V134.4H594.3V135.3H596.6V135.4H599.0V135.4H601.4V135.0H603.8V135.1H606.2V135.4H608.5V135.4H610.9V135.4H613.3V135.2H615.7V134.6H618.1V135.3H620.4V135.4H622.8V135.4H625.2V135.4H627.6V135.4H630.0V135.4H632.4V135.2H634.7V135.0H637.1V135.0H639.5V135.0H641.9V134.5H644.3V133.6H646.6V131.9H649.0V132.2H651.4V131.8H653.8V131.6H656.2V131.8H658.5V132.2H660.9V133.2H663.3V132.1H665.7V132.3H668.1V132.5H670.5V133.4H672.8V134.3H675.2V135.0H677.6V133.7H680.0V132.8H682.4V134.1H684.7V134.5H687.1V133.8H689.5V132.1H691.9V132.5H694.3V132.6H696.6V132.5H699.0V132.4H701.4V132.7H703.8V131.6H706.2V131.6H708.6V130.5H710.9V129.9H713.3V131.0H715.7V128.8H718.1V127.7H720.5V128.3H722.8V129.0H725.2V129.9H727.6V128.5H730.0V129.0H732.4V128.9H734.8V127.7H737.1V127.9H739.5V128.3H741.9V129.9H744.3V129.1H746.7V132.0H749.0V132.7H751.4V131.6H753.8V128.5H756.2V124.8H758.6V121.7H760.9V125.8H763.3V134.3H765.7V135.4H768.1V135.4H770.5V135.4H772.9V135.4H775.2V135.4H777.6V135.4H780.0V135.4H782.4V135.4H784.8V135.4H787.1V135.4H789.5V135.4H791.9V136.2Z" fill="url(#st2)"/>
<rect x="448.3" y="135.5" width="344.3" height="1.5" fill="#141414"/>
<path d="M449.0 156.3V155.5H451.4V155.5H453.8V155.5H456.1V155.5H458.5V155.5H460.9V155.3H463.3V155.1H465.7V155.1H468.1V155.1H470.4V154.6H472.8V153.7H475.2V152.0H477.6V152.3H480.0V151.9H482.3V151.7H484.7V151.9H487.1V152.3H489.5V153.3H491.9V152.2H494.2V152.4H496.6V152.6H499.0V153.5H501.4V154.4H503.8V155.1H506.2V153.8H508.5V152.9H510.9V154.2H513.3V154.6H515.7V153.9H518.1V152.2H520.4V152.6H522.8V152.7H525.2V152.6H527.6V152.5H530.0V152.8H532.3V151.7H534.7V151.7H537.1V150.6H539.5V150.0H541.9V151.1H544.2V148.9H546.6V147.8H549.0V148.4H551.4V149.1H553.8V150.0H556.2V148.6H558.5V149.1H560.9V149.0H563.3V147.8H565.7V148.0H568.1V148.4H570.4V150.0H572.8V149.2H575.2V152.1H577.6V152.8H580.0V151.7H582.4V148.6H584.7V144.9H587.1V141.8H589.5V145.9H591.9V154.4H594.3V155.5H596.6V155.5H599.0V155.5H601.4V155.5H603.8V155.5H606.2V155.5H608.5V155.5H610.9V155.5H613.3V155.5H615.7V155.5H618.1V155.5H620.4V155.5H622.8V155.5H625.2V155.1H627.6V155.1H630.0V155.1H632.4V155.3H634.7V155.5H637.1V155.5H639.5V155.3H641.9V153.8H644.3V154.1H646.6V154.1H649.0V153.1H651.4V152.3H653.8V152.2H656.2V152.4H658.5V152.0H660.9V153.6H663.3V154.1H665.7V153.3H668.1V153.8H670.5V153.6H672.8V154.1H675.2V154.4H677.6V152.9H680.0V150.4H682.4V151.4H684.7V153.2H687.1V154.1H689.5V153.7H691.9V153.1H694.3V153.5H696.6V152.9H699.0V151.3H701.4V150.6H703.8V151.4H706.2V149.6H708.6V148.4H710.9V149.6H713.3V149.9H715.7V149.3H718.1V149.9H720.5V149.8H722.8V150.3H725.2V149.4H727.6V150.2H730.0V149.9H732.4V151.2H734.8V150.3H737.1V150.2H739.5V150.3H741.9V151.0H744.3V151.5H746.7V151.8H749.0V151.4H751.4V148.9H753.8V141.9H756.2V141.9H758.6V141.9H760.9V144.7H763.3V154.1H765.7V155.5H768.1V155.5H770.5V155.5H772.9V155.5H775.2V155.5H777.6V155.5H780.0V155.5H782.4V155.5H784.8V155.5H787.1V155.2H789.5V154.3H791.9V156.3Z" fill="url(#st2)"/>
<rect x="448.3" y="155.6" width="344.3" height="1.5" fill="#141414"/>
<path d="M449.0 176.4V175.6H451.4V175.6H453.8V175.2H456.1V175.2H458.5V175.2H460.9V175.4H463.3V175.6H465.7V175.6H468.1V175.4H470.4V173.9H472.8V174.2H475.2V174.2H477.6V173.2H480.0V172.4H482.3V172.3H484.7V172.5H487.1V172.1H489.5V173.7H491.9V174.2H494.2V173.4H496.6V173.9H499.0V173.7H501.4V174.2H503.8V174.5H506.2V173.0H508.5V170.5H510.9V171.5H513.3V173.3H515.7V174.2H518.1V173.8H520.4V173.2H522.8V173.6H525.2V173.0H527.6V171.4H530.0V170.7H532.3V171.5H534.7V169.7H537.1V168.5H539.5V169.7H541.9V170.0H544.2V169.4H546.6V170.0H549.0V169.9H551.4V170.4H553.8V169.5H556.2V170.3H558.5V170.0H560.9V171.3H563.3V170.4H565.7V170.3H568.1V170.4H570.4V171.1H572.8V171.6H575.2V171.9H577.6V171.5H580.0V169.0H582.4V162.0H584.7V162.0H587.1V162.0H589.5V164.8H591.9V174.2H594.3V175.6H596.6V175.6H599.0V175.6H601.4V175.6H603.8V175.6H606.2V175.6H608.5V175.6H610.9V175.6H613.3V175.6H615.7V175.3H618.1V174.4H620.4V175.6H622.8V175.6H625.2V175.6H627.6V175.6H630.0V175.6H632.4V175.5H634.7V175.4H637.1V175.4H639.5V175.4H641.9V174.4H644.3V174.5H646.6V175.4H649.0V174.2H651.4V173.8H653.8V173.9H656.2V174.7H658.5V174.1H660.9V174.6H663.3V175.4H665.7V174.7H668.1V173.8H670.5V174.2H672.8V175.4H675.2V175.4H677.6V175.4H680.0V174.6H682.4V173.5H684.7V173.8H687.1V172.6H689.5V170.1H691.9V170.7H694.3V170.7H696.6V172.2H699.0V173.4H701.4V174.5H703.8V171.0H706.2V170.3H708.6V169.4H710.9V169.9H713.3V171.7H715.7V172.4H718.1V168.1H720.5V164.6H722.8V168.3H725.2V170.8H727.6V170.9H730.0V171.1H732.4V169.7H734.8V170.3H737.1V171.2H739.5V170.6H741.9V170.5H744.3V172.3H746.7V172.3H749.0V173.2H751.4V172.5H753.8V172.8H756.2V172.2H758.6V168.6H760.9V161.1H763.3V161.9H765.7V168.0H768.1V174.9H770.5V175.6H772.9V175.6H775.2V175.6H777.6V175.6H780.0V175.6H782.4V175.6H784.8V175.6H787.1V175.6H789.5V175.6H791.9V176.4Z" fill="url(#st2)"/>
<rect x="448.3" y="175.7" width="344.3" height="1.5" fill="#141414"/>
<path d="M449.0 196.5V195.7H451.4V195.7H453.8V195.7H456.1V195.7H458.5V195.7H460.9V195.6H463.3V195.5H465.7V195.5H468.1V195.5H470.4V194.5H472.8V194.6H475.2V195.5H477.6V194.3H480.0V193.9H482.3V194.0H484.7V194.8H487.1V194.2H489.5V194.7H491.9V195.5H494.2V194.8H496.6V193.9H499.0V194.3H501.4V195.5H503.8V195.5H506.2V195.5H508.5V194.7H510.9V193.6H513.3V193.9H515.7V192.7H518.1V190.2H520.4V190.8H522.8V190.8H525.2V192.3H527.6V193.5H530.0V194.6H532.3V191.1H534.7V190.4H537.1V189.5H539.5V190.0H541.9V191.8H544.2V192.5H546.6V188.2H549.0V184.7H551.4V188.4H553.8V190.9H556.2V191.0H558.5V191.2H560.9V189.8H563.3V190.4H565.7V191.3H568.1V190.7H570.4V190.6H572.8V192.4H575.2V192.4H577.6V193.3H580.0V192.6H582.4V192.9H584.7V192.3H587.1V188.7H589.5V181.2H591.9V182.0H594.3V188.1H596.6V195.0H599.0V195.7H601.4V195.7H603.8V195.7H606.2V195.7H608.5V195.7H610.9V195.7H613.3V195.7H615.7V195.7H618.1V195.7H620.4V195.7H622.8V195.7H625.2V195.7H627.6V195.7H630.0V195.7H632.4V195.7H634.7V194.8H637.1V194.4H639.5V194.8H641.9V194.9H644.3V194.9H646.6V195.5H649.0V195.5H651.4V194.4H653.8V194.1H656.2V194.9H658.5V195.5H660.9V195.5H663.3V195.5H665.7V194.2H668.1V194.2H670.5V194.3H672.8V194.1H675.2V194.6H677.6V194.2H680.0V193.6H682.4V192.8H684.7V191.5H687.1V191.9H689.5V194.0H691.9V192.2H694.3V194.2H696.6V193.4H699.0V192.7H701.4V192.8H703.8V191.5H706.2V193.0H708.6V191.3H710.9V189.4H713.3V190.0H715.7V190.5H718.1V191.8H720.5V192.1H722.8V192.0H725.2V191.9H727.6V190.8H730.0V191.1H732.4V190.8H734.8V192.3H737.1V191.5H739.5V191.2H741.9V190.8H744.3V192.4H746.7V188.8H749.0V189.8H751.4V192.7H753.8V193.6H756.2V195.6H758.6V195.7H760.9V195.7H763.3V195.7H765.7V195.7H768.1V195.7H770.5V195.7H772.9V195.7H775.2V195.7H777.6V195.7H780.0V195.7H782.4V195.7H784.8V195.7H787.1V195.7H789.5V195.7H791.9V196.5Z" fill="url(#st2)"/>
<rect x="448.3" y="195.8" width="344.3" height="1.5" fill="#141414"/>
<path d="M449.0 216.6V215.8H451.4V215.8H453.8V215.8H456.1V215.8H458.5V215.8H460.9V215.8H463.3V214.9H465.7V214.5H468.1V214.9H470.4V215.0H472.8V215.0H475.2V215.6H477.6V215.6H480.0V214.5H482.3V214.2H484.7V215.0H487.1V215.6H489.5V215.6H491.9V215.6H494.2V214.3H496.6V214.3H499.0V214.4H501.4V214.2H503.8V214.7H506.2V214.3H508.5V213.7H510.9V212.9H513.3V211.6H515.7V212.0H518.1V214.1H520.4V212.3H522.8V214.3H525.2V213.5H527.6V212.8H530.0V212.9H532.3V211.6H534.7V213.1H537.1V211.4H539.5V209.5H541.9V210.1H544.2V210.6H546.6V211.9H549.0V212.2H551.4V212.1H553.8V212.0H556.2V210.9H558.5V211.2H560.9V210.9H563.3V212.4H565.7V211.6H568.1V211.3H570.4V210.9H572.8V212.5H575.2V208.9H577.6V209.9H580.0V212.8H582.4V213.7H584.7V215.7H587.1V215.8H589.5V215.8H591.9V215.8H594.3V215.8H596.6V215.8H599.0V215.8H601.4V215.8H603.8V215.8H606.2V215.8H608.5V215.8H610.9V215.8H613.3V215.8H615.7V215.8H618.1V215.8H620.4V215.8H622.8V215.8H625.2V215.8H627.6V215.8H630.0V215.8H632.4V215.8H634.7V215.8H637.1V215.8H639.5V215.7H641.9V215.4H644.3V214.7H646.6V215.5H649.0V215.8H651.4V215.8H653.8V215.8H656.2V215.8H658.5V215.5H660.9V214.6H663.3V214.8H665.7V214.8H668.1V213.0H670.5V213.5H672.8V215.5H675.2V214.7H677.6V213.9H680.0V212.3H682.4V212.6H684.7V213.0H687.1V213.7H689.5V214.9H691.9V214.5H694.3H694.3V216.6Z" fill="url(#st2)"/>
<rect x="448.3" y="215.9" width="344.3" height="1.5" fill="#141414"/>
<rect x="448.5" y="39.7" width="343.9" height="177.6" fill="none" stroke="#303030" stroke-width="1.25"/>
<polygon points="579.0,97.6 751.0,97.6 747.0,215.8 574.5,215.8" fill="none" stroke="#e0212b" stroke-width="2.2" stroke-linejoin="miter"/>
<rect x="853.6" y="39.7" width="343.9" height="176.9" fill="#e5e5e5"/>
<rect x="896.4" y="39.7" width="87.0" height="16.1" fill="#fff"/>
<rect x="1068.9" y="39.7" width="86.5" height="16.1" fill="#fff"/>
<rect x="896.4" y="56.5" width="87.0" height="19.4" fill="#fff"/>
<rect x="1068.9" y="56.5" width="86.5" height="19.4" fill="#fff"/>
<path d="M854.1 55.8V50.4H856.5V49.5H858.9V52.7H861.2V51.7H863.6V51.0H866.0V50.5H868.4V46.5H870.8V48.5H873.2V50.5H875.5V51.5H877.9V51.5H880.3V49.7H882.7V51.0H885.1V48.4H887.4V47.3H889.8V48.3H892.2V46.3H894.6V40.5H897.0V40.3H899.3V40.3H901.7V40.3H904.1V40.3H906.5V42.0H908.9V45.9H911.2V47.4H913.6V46.1H916.0V47.2H918.4V48.1H920.8V48.4H923.2V48.0H925.5V48.9H927.9V49.9H930.3V51.2H932.7V51.8H935.1V51.8H937.4V51.9H939.8V52.3H942.2V53.3H944.6V52.4H947.0V52.9H949.4V52.0H951.7V52.0H954.1V52.3H956.5V51.8H958.9V49.8H961.3V48.5H963.6V47.9H966.0V48.8H968.4V47.6H970.8V45.8H973.2V43.8H975.5V44.2H977.9V41.9H980.3V40.3H982.7V40.3H985.1V39.8H987.5V44.1H989.8V43.3H992.2V46.0H994.6V48.2H997.0V50.9H999.4V51.7H1001.7V51.6H1004.1V53.1H1006.5V52.7H1008.9V52.9H1011.3V52.4H1013.6V50.3H1016.0V49.6H1018.4V49.3H1020.8V51.6H1023.2V50.9H1025.5V52.8H1027.9V52.5H1030.3V52.5H1032.7V52.2H1035.1V52.3H1037.5V52.8H1039.8V49.5H1042.2V50.6H1044.6V50.3H1047.0V50.6H1049.4V51.3H1051.7V50.0H1054.1V48.9H1056.5V48.4H1058.9V48.4H1061.3V44.9H1063.6V43.0H1066.0V40.9H1068.4V40.8H1070.8V41.3H1073.2V42.0H1075.6V42.1H1077.9V45.2H1080.3V46.0H1082.7V48.7H1085.1V51.5H1087.5V50.4H1089.8V51.4H1092.2V51.7H1094.6V51.6H1097.0V53.4H1099.4V51.5H1101.8V52.3H1104.1V52.3H1106.5V52.4H1108.9V52.5H1111.3V52.7H1113.7V53.0H1116.0V51.3H1118.4V52.4H1120.8V51.8H1123.2V50.7H1125.6V50.7H1127.9V51.6H1130.3V51.7H1132.7V50.8H1135.1V49.5H1137.5V47.5H1139.8V49.1H1142.2V47.5H1144.6V45.9H1147.0V44.3H1149.4V44.4H1151.8V39.7H1154.1V40.3H1156.5V42.7H1158.9V43.8H1161.3V48.5H1163.7V51.6H1166.0V52.9H1168.4V53.5H1170.8V53.4H1173.2V53.8H1175.6V53.4H1177.9V53.8H1180.3V53.7H1182.7V53.2H1185.1V52.4H1187.5V52.5H1189.9V51.3H1192.2V49.3H1194.6V51.7H1197.0V55.8Z" fill="url(#st3)"/>
<rect x="853.4" y="55.1" width="344.3" height="1.5" fill="#141414"/>
<path d="M854.1 75.9V72.9H856.5V72.6H858.9V72.6H861.2V72.3H863.6V72.4H866.0V72.9H868.4V69.6H870.8V70.7H873.2V70.4H875.5V70.7H877.9V71.4H880.3V70.1H882.7V69.0H885.1V68.5H887.4V68.5H889.8V65.0H892.2V63.1H894.6V61.0H897.0V60.9H899.3V61.4H901.7V62.1H904.1V62.2H906.5V65.3H908.9V66.1H911.2V68.8H913.6V71.6H916.0V70.5H918.4V71.5H920.8V71.8H923.2V71.7H925.5V73.5H927.9V71.6H930.3V72.4H932.7V72.4H935.1V72.5H937.4V72.6H939.8V72.8H942.2V73.1H944.6V71.4H947.0V72.5H949.4V71.9H951.7V70.8H954.1V70.8H956.5V71.7H958.9V71.8H961.3V70.9H963.6V69.6H966.0V67.6H968.4V69.2H970.8V67.6H973.2V66.0H975.5V64.4H977.9V64.5H980.3V59.8H982.7V60.4H985.1V62.8H987.5V63.9H989.8V68.6H992.2V71.7H994.6V73.0H997.0V73.6H999.4V73.5H1001.7V73.9H1004.1V73.5H1006.5V73.9H1008.9V73.8H1011.3V73.3H1013.6V72.5H1016.0V72.6H1018.4V71.4H1020.8V69.4H1023.2V71.8H1025.5V73.8H1027.9V73.2H1030.3V72.5H1032.7V72.7H1035.1V74.7H1037.5V72.8H1039.8V72.3H1042.2V71.5H1044.6V69.1H1047.0V68.0H1049.4V68.7H1051.7V70.1H1054.1V69.7H1056.5V69.8H1058.9V69.8H1061.3V68.0H1063.6V65.4H1066.0V61.4H1068.4V63.2H1070.8V65.3H1073.2V66.2H1075.6V67.5H1077.9V63.1H1080.3V65.4H1082.7V65.6H1085.1V64.3H1087.5V64.4H1089.8V67.4H1092.2V65.7H1094.6V68.3H1097.0V67.7H1099.4V67.8H1101.8V66.6H1104.1V66.5H1106.5V66.5H1108.9V66.2H1111.3V67.0H1113.7V67.0H1116.0V67.5H1118.4V65.3H1120.8V63.9H1123.2V63.2H1125.6V64.2H1127.9V64.8H1130.3V63.2H1132.7V65.2H1135.1V63.1H1137.5V64.0H1139.8V64.9H1142.2V65.0H1144.6V62.8H1147.0V62.0H1149.4V65.0H1151.8V63.5H1154.1V62.5H1156.5V66.0H1158.9V64.4H1161.3V66.8H1163.7V67.5H1166.0V67.1H1168.4V61.4H1170.8V65.6H1173.2V72.2H1175.6V71.1H1177.9V71.1H1180.3V72.9H1182.7V73.7H1185.1V73.8H1187.5V73.6H1189.9V72.4H1192.2V72.1H1194.6V72.5H1197.0V75.9Z" fill="url(#st3)"/>
<rect x="853.4" y="75.2" width="344.3" height="1.5" fill="#141414"/>
<path d="M854.1 96.0V93.9H856.5V93.3H858.9V92.6H861.2V92.8H863.6V94.8H866.0V92.9H868.4V92.4H870.8V91.6H873.2V89.2H875.5V88.1H877.9V88.8H880.3V90.2H882.7V89.8H885.1V89.9H887.4V89.9H889.8V88.1H892.2V85.5H894.6V81.5H897.0V83.3H899.3V85.4H901.7V86.3H904.1V87.6H906.5V83.2H908.9V85.5H911.2V85.7H913.6V84.4H916.0V84.5H918.4V87.5H920.8V85.8H923.2V88.4H925.5V87.8H927.9V87.9H930.3V86.7H932.7V86.6H935.1V86.6H937.4V86.3H939.8V87.1H942.2V87.1H944.6V87.6H947.0V85.4H949.4V84.0H951.7V83.3H954.1V84.3H956.5V84.9H958.9V83.3H961.3V85.3H963.6V83.2H966.0V84.1H968.4V85.0H970.8V85.1H973.2V82.9H975.5V82.1H977.9V85.1H980.3V83.6H982.7V82.6H985.1V86.1H987.5V84.5H989.8V86.9H992.2V87.6H994.6V87.2H997.0V81.5H999.4V85.7H1001.7V92.3H1004.1V91.2H1006.5V91.2H1008.9V93.0H1011.3V93.8H1013.6V93.9H1016.0V93.7H1018.4V92.5H1020.8V92.2H1023.2V92.6H1025.5V90.9H1027.9V91.6H1030.3V92.2H1032.7V93.5H1035.1V91.7H1037.5V89.7H1039.8V88.7H1042.2V89.6H1044.6V88.9H1047.0V89.3H1049.4V87.7H1051.7V89.1H1054.1V87.3H1056.5V87.2H1058.9V86.6H1061.3V83.7H1063.6V84.1H1066.0V85.3H1068.4V85.1H1070.8V87.3H1073.2V87.5H1075.6V89.6H1077.9V88.3H1080.3V87.9H1082.7V88.4H1085.1V89.1H1087.5V89.8H1089.8V89.1H1092.2V89.5H1094.6V90.5H1097.0V90.4H1099.4V90.5H1101.8V90.1H1104.1V89.7H1106.5V88.4H1108.9V88.4H1111.3V88.4H1113.7V88.2H1116.0V86.4H1118.4V85.2H1120.8V86.2H1123.2V85.7H1125.6V86.1H1127.9V86.7H1130.3V88.4H1132.7V85.2H1135.1V86.5H1137.5V86.0H1139.8V84.5H1142.2V84.6H1144.6V85.1H1147.0V84.7H1149.4V86.4H1151.8V87.6H1154.1V85.9H1156.5V86.4H1158.9V88.4H1161.3V88.9H1163.7V89.4H1166.0V89.8H1168.4V90.2H1170.8V90.9H1173.2V91.3H1175.6V92.9H1177.9V93.9H1180.3V94.0H1182.7V93.7H1185.1V93.8H1187.5V93.6H1189.9V92.8H1192.2V92.0H1194.6V92.0H1197.0V96.0Z" fill="url(#st3)"/>
<rect x="853.4" y="95.3" width="344.3" height="1.5" fill="#141414"/>
<path d="M854.1 116.1V111.0H856.5V111.7H858.9V112.3H861.2V113.6H863.6V111.8H866.0V109.8H868.4V108.8H870.8V109.7H873.2V109.0H875.5V109.4H877.9V107.8H880.3V109.2H882.7V107.4H885.1V107.3H887.4V106.7H889.8V103.8H892.2V104.2H894.6V105.4H897.0V105.2H899.3V107.4H901.7V107.6H904.1V109.7H906.5V108.4H908.9V108.0H911.2V108.5H913.6V109.2H916.0V109.9H918.4V109.2H920.8V109.6H923.2V110.6H925.5V110.5H927.9V110.6H930.3V110.2H932.7V109.8H935.1V108.5H937.4V108.5H939.8V108.5H942.2V108.3H944.6V106.5H947.0V105.3H949.4V106.3H951.7V105.8H954.1V106.2H956.5V106.8H958.9V108.5H961.3V105.3H963.6V106.6H966.0V106.1H968.4V104.6H970.8V104.7H973.2V105.2H975.5V104.8H977.9V106.5H980.3V107.7H982.7V106.0H985.1V106.5H987.5V108.5H989.8V109.0H992.2V109.5H994.6V109.9H997.0V110.3H999.4V111.0H1001.7V111.4H1004.1V113.0H1006.5V114.0H1008.9V114.1H1011.3V113.8H1013.6V113.9H1016.0V113.7H1018.4V112.9H1020.8V112.1H1023.2V112.1H1025.5V111.4H1027.9V112.0H1030.3V112.8H1032.7V112.4H1035.1V111.1H1037.5V110.0H1039.8V107.8H1042.2V106.2H1044.6V106.9H1047.0V109.9H1049.4V108.2H1051.7V108.0H1054.1V107.0H1056.5V107.5H1058.9V108.6H1061.3V107.9H1063.6V108.2H1066.0V108.0H1068.4V107.9H1070.8V107.5H1073.2V108.8H1075.6V108.2H1077.9V110.1H1080.3V111.8H1082.7V112.4H1085.1V112.6H1087.5V112.0H1089.8V113.3H1092.2V111.9H1094.6V111.7H1097.0V109.7H1099.4V108.8H1101.8V109.0H1104.1V106.9H1106.5V106.2H1108.9V109.3H1111.3V107.2H1113.7V106.9H1116.0V105.5H1118.4V106.9H1120.8V105.9H1123.2V108.8H1125.6V106.5H1127.9V107.8H1130.3V108.6H1132.7V108.2H1135.1V106.5H1137.5V104.7H1139.8V105.5H1142.2V107.1H1144.6V109.2H1147.0V108.9H1149.4V110.4H1151.8V110.9H1154.1V112.1H1156.5V112.4H1158.9V111.5H1161.3V111.7H1163.7V111.2H1166.0V109.2H1168.4V108.9H1170.8V111.5H1173.2V112.6H1175.6V110.7H1177.9V112.0H1180.3V112.7H1182.7V113.4H1185.1V112.9H1187.5V113.3H1189.9V111.9H1192.2V111.3H1194.6V111.0H1197.0V116.1Z" fill="url(#st3)"/>
<rect x="853.4" y="115.4" width="344.3" height="1.5" fill="#141414"/>
<path d="M854.1 136.2V131.5H856.5V132.1H858.9V132.9H861.2V132.5H863.6V131.2H866.0V130.1H868.4V127.9H870.8V126.3H873.2V127.0H875.5V130.0H877.9V128.3H880.3V128.1H882.7V127.1H885.1V127.6H887.4V128.7H889.8V128.0H892.2V128.3H894.6V128.1H897.0V128.0H899.3V127.6H901.7V128.9H904.1V128.3H906.5V130.2H908.9V131.9H911.2V132.5H913.6V132.7H916.0V132.1H918.4V133.4H920.8V132.0H923.2V131.8H925.5V129.8H927.9V128.9H930.3V129.1H932.7V127.0H935.1V126.3H937.4V129.4H939.8V127.3H942.2V127.0H944.6V125.6H947.0V127.0H949.4V126.0H951.7V128.9H954.1V126.6H956.5V127.9H958.9V128.7H961.3V128.3H963.6V126.6H966.0V124.8H968.4V125.6H970.8V127.2H973.2V129.3H975.5V129.0H977.9V130.5H980.3V131.0H982.7V132.2H985.1V132.5H987.5V131.6H989.8V131.8H992.2V131.3H994.6V129.3H997.0V129.0H999.4V131.6H1001.7V132.7H1004.1V130.8H1006.5V132.1H1008.9V132.8H1011.3V133.5H1013.6V133.0H1016.0V133.4H1018.4V132.0H1020.8V131.4H1023.2V131.1H1025.5V132.2H1027.9V132.6H1030.3V131.0H1032.7V131.1H1035.1V131.2H1037.5V130.1H1039.8V131.0H1042.2V130.0H1044.6V129.3H1047.0V128.8H1049.4V129.9H1051.7V129.6H1054.1V128.0H1056.5V127.7H1058.9V131.0H1061.3V130.6H1063.6V130.2H1066.0V129.0H1068.4V128.3H1070.8V128.0H1073.2V128.6H1075.6V131.0H1077.9V131.0H1080.3V131.0H1082.7V131.4H1085.1V131.0H1087.5V131.0H1089.8V130.1H1092.2V128.3H1094.6V131.4H1097.0V130.2H1099.4V128.8H1101.8V128.1H1104.1V125.4H1106.5V128.0H1108.9V125.7H1111.3V124.4H1113.7V126.4H1116.0V127.2H1118.4V126.5H1120.8V125.5H1123.2V125.3H1125.6V125.4H1127.9V124.9H1130.3V127.5H1132.7V130.5H1135.1V129.2H1137.5V127.5H1139.8V130.7H1142.2V131.8H1144.6V132.5H1147.0V132.7H1149.4V132.4H1151.8V129.6H1154.1V130.4H1156.5V129.2H1158.9V127.0H1161.3V130.4H1163.7V131.4H1166.0V132.0H1168.4V132.2H1170.8V131.4H1173.2V132.0H1175.6V133.3H1177.9V133.8H1180.3V133.7H1182.7V133.5H1185.1V133.3H1187.5V132.3H1189.9V132.1H1192.2V132.6H1194.6V133.0H1197.0V136.2Z" fill="url(#st3)"/>
<rect x="853.4" y="135.5" width="344.3" height="1.5" fill="#141414"/>
<path d="M854.1 156.3V152.3H856.5V152.7H858.9V151.1H861.2V151.2H863.6V151.3H866.0V150.2H868.4V151.1H870.8V150.1H873.2V149.4H875.5V148.9H877.9V150.0H880.3V149.7H882.7V148.1H885.1V147.8H887.4V151.1H889.8V150.7H892.2V150.3H894.6V149.1H897.0V148.4H899.3V148.1H901.7V148.7H904.1V151.1H906.5V151.1H908.9V151.1H911.2V151.5H913.6V151.1H916.0V151.1H918.4V150.2H920.8V148.4H923.2V151.5H925.5V150.3H927.9V148.9H930.3V148.2H932.7V145.5H935.1V148.1H937.4V145.8H939.8V144.5H942.2V146.5H944.6V147.3H947.0V146.6H949.4V145.6H951.7V145.4H954.1V145.5H956.5V145.0H958.9V147.6H961.3V150.6H963.6V149.3H966.0V147.6H968.4V150.8H970.8V151.9H973.2V152.6H975.5V152.8H977.9V152.5H980.3V149.7H982.7V150.5H985.1V149.3H987.5V147.1H989.8V150.5H992.2V151.5H994.6V152.1H997.0V152.3H999.4V151.5H1001.7V152.1H1004.1V153.4H1006.5V153.9H1008.9V153.8H1011.3V153.6H1013.6V153.4H1016.0V152.4H1018.4V152.2H1020.8V152.7H1023.2V153.1H1025.5V153.1H1027.9V152.6H1030.3V149.5H1032.7V148.1H1035.1V148.9H1037.5V150.6H1039.8V150.4H1042.2V150.1H1044.6V150.2H1047.0V149.2H1049.4V149.6H1051.7V149.5H1054.1V151.0H1056.5V146.8H1058.9V145.2H1061.3V146.9H1063.6V147.0H1066.0V147.3H1068.4V149.9H1070.8V150.4H1073.2V150.7H1075.6V150.3H1077.9V149.7H1080.3V147.4H1082.7V148.0H1085.1V149.8H1087.5V151.4H1089.8V151.5H1092.2V149.5H1094.6V149.6H1097.0V148.9H1099.4V149.5H1101.8V148.8H1104.1V147.9H1106.5V148.4H1108.9V147.9H1111.3V148.7H1113.7V148.5H1116.0V146.1H1118.4V147.0H1120.8V147.1H1123.2V147.6H1125.6V148.3H1127.9V149.1H1130.3V145.0H1132.7V144.3H1135.1V148.9H1137.5V150.4H1139.8V151.1H1142.2V149.6H1144.6V150.8H1147.0V150.6H1149.4V152.0H1151.8V153.4H1154.1V153.9H1156.5V154.4H1158.9V153.0H1161.3V152.6H1163.7V152.1H1166.0V150.2H1168.4V151.7H1170.8V152.6H1173.2V153.0H1175.6V152.8H1177.9V152.3H1180.3V152.8H1182.7V151.3H1185.1V150.0H1187.5V150.8H1189.9V151.9H1192.2V153.2H1194.6V152.7H1197.0V156.3Z" fill="url(#st3)"/>
<rect x="853.4" y="155.6" width="344.3" height="1.5" fill="#141414"/>
<path d="M854.1 176.4V173.2H856.5V172.7H858.9V169.6H861.2V168.2H863.6V169.0H866.0V170.7H868.4V170.5H870.8V170.2H873.2V170.3H875.5V169.3H877.9V169.7H880.3V169.6H882.7V171.1H885.1V166.9H887.4V165.3H889.8V167.0H892.2V167.1H894.6V167.4H897.0V170.0H899.3V170.5H901.7V170.8H904.1V170.4H906.5V169.8H908.9V167.5H911.2V168.1H913.6V169.9H916.0V171.5H918.4V171.6H920.8V169.6H923.2V169.7H925.5V169.0H927.9V169.6H930.3V168.9H932.7V168.0H935.1V168.5H937.4V168.0H939.8V168.8H942.2V168.6H944.6V166.2H947.0V167.1H949.4V167.2H951.7V167.7H954.1V168.4H956.5V169.2H958.9V165.1H961.3V164.4H963.6V169.0H966.0V170.5H968.4V171.2H970.8V169.7H973.2V170.9H975.5V170.7H977.9V172.1H980.3V173.5H982.7V174.0H985.1V174.5H987.5V173.1H989.8V172.7H992.2V172.2H994.6V170.3H997.0V171.8H999.4V172.7H1001.7V173.1H1004.1V172.9H1006.5V172.4H1008.9V172.9H1011.3V171.4H1013.6V170.1H1016.0V170.9H1018.4V172.0H1020.8V173.3H1023.2V172.8H1025.5V170.3H1027.9V169.7H1030.3V167.3H1032.7V168.4H1035.1V168.7H1037.5V168.2H1039.8V169.3H1042.2V170.7H1044.6V170.9H1047.0V167.9H1049.4V170.6H1051.7V172.3H1054.1V171.9H1056.5V170.0H1058.9V170.9H1061.3V171.2H1063.6V171.6H1066.0V171.4H1068.4V172.0H1070.8V173.2H1073.2V173.8H1075.6V171.3H1077.9V171.4H1080.3V172.1H1082.7V172.1H1085.1V170.4H1087.5V170.5H1089.8V170.6H1092.2V171.2H1094.6V170.6H1097.0V171.1H1099.4V170.9H1101.8V167.7H1104.1V169.2H1106.5V170.6H1108.9V170.2H1111.3V169.6H1113.7V169.8H1116.0V169.6H1118.4V170.5H1120.8V170.3H1123.2V170.0H1125.6V169.5H1127.9V169.6H1130.3V168.9H1132.7V169.4H1135.1V170.6H1137.5V170.5H1139.8V168.8H1142.2V167.6H1144.6V167.5H1147.0V170.4H1149.4V168.4H1151.8V162.9H1154.1V163.4H1156.5V164.9H1158.9V172.0H1161.3V173.2H1163.7V170.8H1166.0V171.5H1168.4V171.8H1170.8V173.1H1173.2V173.4H1175.6V169.0H1177.9V171.7H1180.3V172.2H1182.7V173.1H1185.1V173.5H1187.5V172.7H1189.9V172.8H1192.2V172.6H1194.6V172.9H1197.0V176.4Z" fill="url(#st3)"/>
<rect x="853.4" y="175.7" width="344.3" height="1.5" fill="#141414"/>
<path d="M854.1 196.5V190.4H856.5V189.8H858.9V187.4H861.2V188.5H863.6V188.8H866.0V188.3H868.4V189.4H870.8V190.8H873.2V191.0H875.5V188.0H877.9V190.7H880.3V192.4H882.7V192.0H885.1V190.1H887.4V191.0H889.8V191.3H892.2V191.7H894.6V191.5H897.0V192.1H899.3V193.3H901.7V193.9H904.1V191.4H906.5V191.5H908.9V192.2H911.2V192.2H913.6V190.5H916.0V190.6H918.4V190.7H920.8V191.3H923.2V190.7H925.5V191.2H927.9V191.0H930.3V187.8H932.7V189.3H935.1V190.7H937.4V190.3H939.8V189.7H942.2V189.9H944.6V189.7H947.0V190.6H949.4V190.4H951.7V190.1H954.1V189.6H956.5V189.7H958.9V189.0H961.3V189.5H963.6V190.7H966.0V190.6H968.4V188.9H970.8V187.7H973.2V187.6H975.5V190.5H977.9V188.5H980.3V183.0H982.7V183.5H985.1V185.0H987.5V192.1H989.8V193.3H992.2V190.9H994.6V191.6H997.0V191.9H999.4V193.2H1001.7V193.5H1004.1V189.1H1006.5V191.8H1008.9V192.3H1011.3V193.2H1013.6V193.6H1016.0V192.8H1018.4V192.9H1020.8V192.7H1023.2V193.0H1025.5V192.7H1027.9V193.0H1030.3V193.3H1032.7V193.6H1035.1V191.6H1037.5V191.3H1039.8V192.1H1042.2V192.8H1044.6V193.1H1047.0V194.4H1049.4V192.8H1051.7V191.2H1054.1V190.4H1056.5V192.3H1058.9V192.7H1061.3V193.7H1063.6V193.0H1066.0V192.3H1068.4V191.4H1070.8V192.6H1073.2V192.8H1075.6V191.9H1077.9V192.1H1080.3V190.8H1082.7V190.0H1085.1V189.7H1087.5V192.4H1089.8V190.9H1092.2V189.7H1094.6V189.5H1097.0V189.5H1099.4V190.4H1101.8V190.4H1104.1V189.0H1106.5V190.3H1108.9V188.3H1111.3V188.8H1113.7V189.7H1116.0V190.5H1118.4V189.5H1120.8V190.0H1123.2V190.8H1125.6V191.7H1127.9V192.1H1130.3V192.7H1132.7V192.3H1135.1V193.2H1137.5V192.9H1139.8V192.7H1142.2V193.9H1144.6V194.2H1147.0V195.4H1149.4V193.7H1151.8V192.5H1154.1V193.6H1156.5V194.2H1158.9V193.6H1161.3V193.1H1163.7V193.4H1166.0V194.3H1168.4V193.0H1170.8V192.7H1173.2V193.6H1175.6V194.5H1177.9V194.4H1180.3V194.7H1182.7V193.1H1185.1V192.6H1187.5V193.6H1189.9V193.3H1192.2V193.0H1194.6V193.9H1197.0V196.5Z" fill="url(#st3)"/>
<rect x="853.4" y="195.8" width="344.3" height="1.5" fill="#141414"/>
<path d="M854.1 216.6V212.8H856.5V213.1H858.9V213.4H861.2V213.7H863.6V211.7H866.0V211.4H868.4V212.2H870.8V212.9H873.2V213.2H875.5V214.5H877.9V212.9H880.3V211.3H882.7V210.5H885.1V212.4H887.4V212.8H889.8V213.8H892.2V213.1H894.6V212.4H897.0V211.5H899.3V212.7H901.7V212.9H904.1V212.0H906.5V212.2H908.9V210.9H911.2V210.1H913.6V209.8H916.0V212.5H918.4V211.0H920.8V209.8H923.2V209.6H925.5V209.6H927.9V210.5H930.3V210.5H932.7V209.1H935.1V210.4H937.4V208.4H939.8V208.9H942.2V209.8H944.6V210.6H947.0V209.6H949.4V210.1H951.7V210.9H954.1V211.8H956.5V212.2H958.9V212.8H961.3V212.4H963.6V213.3H966.0V213.0H968.4V212.8H970.8V214.0H973.2V214.3H975.5V215.5H977.9V213.8H980.3V212.6H982.7V213.7H985.1V214.3H987.5V213.7H989.8V213.2H992.2V213.5H994.6V214.4H997.0V213.1H999.4V212.8H1001.7V213.7H1004.1V214.6H1006.5V214.5H1008.9V214.8H1011.3V213.2H1013.6V212.7H1016.0V213.7H1018.4V213.4H1020.8V213.1H1023.2V214.0H1025.5V213.1H1027.9V213.3H1030.3V212.5H1032.7V210.6H1035.1V209.2H1037.5V209.9H1039.8V212.3H1042.2V211.6H1044.6V211.7H1047.0V212.3H1049.4V211.7H1051.7V212.8H1054.1V214.0H1056.5V213.9H1058.9V212.4H1061.3V210.1H1063.6V209.5H1066.0V208.6H1068.4V207.9H1070.8V208.8H1073.2V211.7H1075.6V212.0H1077.9V212.2H1080.3H1080.3V216.6Z" fill="url(#st3)"/>
<rect x="853.4" y="215.9" width="344.3" height="1.5" fill="#141414"/>
<rect x="853.6" y="39.7" width="343.9" height="177.6" fill="none" stroke="#303030" stroke-width="1.25"/>
<polygon points="973.6,97.6 1145.5,97.6 1136.2,215.8 964.3,215.8" fill="none" stroke="#e0212b" stroke-width="2.2" stroke-linejoin="miter"/>
<rect x="42.8" y="244.5" width="343.9" height="176.9" fill="#e5e5e5"/>
<rect x="85.6" y="244.5" width="87.0" height="16.1" fill="#fff"/>
<rect x="258.1" y="244.5" width="86.5" height="16.1" fill="#fff"/>
<rect x="85.6" y="261.3" width="87.0" height="19.4" fill="#fff"/>
<rect x="258.1" y="261.3" width="86.5" height="19.4" fill="#fff"/>
<path d="M43.3 260.6V251.3H45.7V251.4H48.1V253.9H50.4V251.7H52.8V250.8H55.2V251.6H57.6V255.0H60.0V253.7H62.4V253.1H64.7V255.7H67.1V256.4H69.5V253.5H71.9V252.7H74.3V251.4H76.6V251.2H79.0V251.2H81.4V245.3H83.8V246.0H86.2V248.3H88.5V249.3H90.9V250.2H93.3V250.0H95.7V251.0H98.1V252.8H100.5V254.1H102.8V254.5H105.2V254.2H107.6V253.5H110.0V253.9H112.4V253.0H114.7V254.5H117.1V256.6H119.5V258.0H121.9V257.6H124.3V258.1H126.6V259.4H129.0V259.4H131.4V259.4H133.8V259.4H136.2V259.4H138.6V259.4H140.9V259.4H143.3V259.4H145.7V259.4H148.1V256.9H150.5V255.1H152.8V255.3H155.2V255.8H157.6V256.2H160.0V254.9H162.4V249.2H164.7V250.6H167.1V251.4H169.5V246.9H171.9V244.6H174.3V244.6H176.7V244.6H179.0V245.9H181.4V249.5H183.8V252.0H186.2V253.7H188.6V253.2H190.9V252.7H193.3V254.8H195.7V252.4H198.1V254.9H200.5V253.3H202.8V252.0H205.2V254.8H207.6V253.8H210.0V252.9H212.4V252.2H214.8V255.2H217.1V252.6H219.5V252.2H221.9V254.6H224.3V254.2H226.7V253.7H229.0V253.9H231.4V255.2H233.8V256.5H236.2V254.7H238.6V253.4H240.9V253.1H243.3V252.2H245.7V253.7H248.1V251.7H250.5V246.6H252.9V248.2H255.2V247.2H257.6V247.3H260.0V249.3H262.4V253.2H264.8V254.4H267.1V253.0H269.5V254.7H271.9V253.1H274.3V255.3H276.7V256.6H279.0V255.6H281.4V255.7H283.8V258.5H286.2V258.9H288.6V259.4H291.0V259.4H293.3V259.1H295.7V257.7H298.1V258.4H300.5V259.4H302.9V259.4H305.2V259.4H307.6V259.4H310.0V259.4H312.4V259.4H314.8V259.4H317.1V259.4H319.5V259.4H321.9V259.4H324.3V259.4H326.7V256.4H329.1V255.0H331.4V254.7H333.8V254.1H336.2V253.8H338.6V248.7H341.0V245.8H343.3V244.6H345.7V244.6H348.1V245.0H350.5V245.9H352.9V250.9H355.2V253.1H357.6V256.1H360.0V255.9H362.4V255.1H364.8V254.9H367.2V255.5H369.5V255.7H371.9V255.7H374.3V254.7H376.7V254.9H379.1V254.2H381.4V252.1H383.8V255.4H386.2V260.6Z" fill="url(#st4)"/>
<rect x="42.6" y="259.9" width="344.3" height="1.5" fill="#141414"/>
<path d="M43.3 280.7V275.3H45.7V272.7H48.1V272.3H50.4V274.7H52.8V274.3H55.2V273.8H57.6V274.0H60.0V275.3H62.4V276.6H64.7V274.8H67.1V273.5H69.5V273.2H71.9V272.3H74.3V273.8H76.6V271.8H79.0V266.7H81.4V268.3H83.8V267.3H86.2V267.4H88.5V269.4H90.9V273.3H93.3V274.5H95.7V273.1H98.1V274.8H100.5V273.2H102.8V275.4H105.2V276.7H107.6V275.7H110.0V275.8H112.4V278.6H114.7V279.0H117.1V279.5H119.5V279.5H121.9V279.2H124.3V277.8H126.6V278.5H129.0V279.5H131.4V279.5H133.8V279.5H136.2V279.5H138.6V279.5H140.9V279.5H143.3V279.5H145.7V279.5H148.1V279.5H150.5V279.5H152.8V279.5H155.2V276.5H157.6V275.1H160.0V274.8H162.4V274.2H164.7V273.9H167.1V268.8H169.5V265.9H171.9V264.7H174.3V264.7H176.7V265.1H179.0V266.0H181.4V271.0H183.8V273.2H186.2V276.2H188.6V276.0H190.9V275.2H193.3V275.0H195.7V275.6H198.1V275.8H200.5V275.8H202.8V274.8H205.2V275.0H207.6V274.3H210.0V272.2H212.4V275.5H214.8V275.4H217.1V275.7H219.5V275.7H221.9V275.3H224.3V275.0H226.7V275.3H229.0V275.4H231.4V275.3H233.8V276.4H236.2V276.5H238.6V275.4H240.9V274.2H243.3V272.9H245.7V272.6H248.1V272.4H250.5V273.3H252.9V271.5H255.2V270.9H257.6V270.2H260.0V269.9H262.4V270.9H264.8V269.9H267.1V268.9H269.5V269.6H271.9V271.5H274.3V270.0H276.7V270.6H279.0V270.2H281.4V273.6H283.8V272.5H286.2V274.4H288.6V273.3H291.0V273.7H293.3V273.8H295.7V274.8H298.1V277.6H300.5V275.5H302.9V276.7H305.2V278.1H307.6V277.9H310.0V275.9H312.4V274.5H314.8V270.6H317.1V268.9H319.5V273.0H321.9V272.1H324.3V272.8H326.7V269.3H329.1V265.4H331.4V264.2H333.8V264.2H336.2V264.2H338.6V264.2H341.0V265.7H343.3V266.2H345.7V266.2H348.1V267.8H350.5V267.5H352.9V269.3H355.2V272.7H357.6V279.8H360.0V279.9H362.4V279.9H364.8V279.6H367.2V275.2H369.5V276.1H371.9V276.6H374.3V275.9H376.7V276.6H379.1V276.1H381.4V274.4H383.8V272.5H386.2V280.7Z" fill="url(#st4)"/>
<rect x="42.6" y="280.0" width="344.3" height="1.5" fill="#141414"/>
<path d="M43.3 300.8V295.5H45.7V295.8H48.1V295.8H50.4V295.4H52.8V295.1H55.2V295.4H57.6V295.5H60.0V295.4H62.4V296.5H64.7V296.6H67.1V295.5H69.5V294.3H71.9V293.0H74.3V292.7H76.6V292.5H79.0V293.4H81.4V291.6H83.8V291.0H86.2V290.3H88.5V290.0H90.9V291.0H93.3V290.0H95.7V289.0H98.1V289.7H100.5V291.6H102.8V290.1H105.2V290.7H107.6V290.3H110.0V293.7H112.4V292.6H114.7V294.5H117.1V293.4H119.5V293.8H121.9V293.9H124.3V294.9H126.6V297.7H129.0V295.6H131.4V296.8H133.8V298.2H136.2V298.0H138.6V296.0H140.9V294.6H143.3V290.7H145.7V289.0H148.1V293.1H150.5V292.2H152.8V292.9H155.2V289.4H157.6V285.5H160.0V284.3H162.4V284.3H164.7V284.3H167.1V284.3H169.5V285.8H171.9V286.3H174.3V286.3H176.7V287.9H179.0V287.6H181.4V289.4H183.8V292.8H186.2V299.9H188.6V300.0H190.9V300.0H193.3V299.7H195.7V295.3H198.1V296.2H200.5V296.7H202.8V296.0H205.2V296.7H207.6V296.2H210.0V294.5H212.4V292.6H214.8V299.8H217.1V296.0H219.5V296.4H221.9V297.5H224.3V296.6H226.7V296.0H229.0V295.2H231.4V292.1H233.8V294.7H236.2V294.4H238.6V295.4H240.9V295.6H243.3V294.4H245.7V294.6H248.1V296.0H250.5V293.9H252.9V294.6H255.2V294.7H257.6V296.8H260.0V296.1H262.4V296.0H264.8V295.8H267.1V294.0H269.5V294.3H271.9V293.9H274.3V294.9H276.7V294.5H279.0V293.3H281.4V293.9H283.8V291.8H286.2V295.3H288.6V297.3H291.0V298.3H293.3V298.8H295.7V297.9H298.1V296.1H300.5V296.6H302.9V297.5H305.2V296.9H307.6V294.9H310.0V295.6H312.4V295.4H314.8V290.7H317.1V290.7H319.5V287.3H321.9V286.6H324.3V290.4H326.7V288.5H329.1V289.8H331.4V285.1H333.8V289.0H336.2V285.3H338.6V289.9H341.0V291.2H343.3V290.9H345.7V291.2H348.1V291.8H350.5V294.6H352.9V296.3H355.2V295.5H357.6V295.1H360.0V294.9H362.4V294.0H364.8V294.5H367.2V295.1H369.5V293.8H371.9V292.2H374.3V294.0H376.7V295.7H379.1V296.2H381.4V296.4H383.8V296.1H386.2V300.8Z" fill="url(#st4)"/>
<rect x="42.6" y="300.1" width="344.3" height="1.5" fill="#141414"/>
<path d="M43.3 320.9V319.9H45.7V316.1H48.1V316.5H50.4V317.6H52.8V316.7H55.2V316.1H57.6V315.3H60.0V312.2H62.4V314.8H64.7V314.5H67.1V315.5H69.5V315.7H71.9V314.5H74.3V314.7H76.6V316.1H79.0V314.0H81.4V314.7H83.8V314.8H86.2V316.9H88.5V316.2H90.9V316.1H93.3V315.9H95.7V314.1H98.1V314.4H100.5V314.0H102.8V315.0H105.2V314.6H107.6V313.4H110.0V314.0H112.4V311.9H114.7V315.4H117.1V317.4H119.5V318.4H121.9V318.9H124.3V318.0H126.6V316.2H129.0V316.7H131.4V317.6H133.8V317.0H136.2V315.0H138.6V315.7H140.9V315.5H143.3V310.8H145.7V310.8H148.1V307.4H150.5V306.7H152.8V310.5H155.2V308.6H157.6V309.9H160.0V305.2H162.4V309.1H164.7V305.4H167.1V310.0H169.5V311.3H171.9V311.0H174.3V311.3H176.7V311.9H179.0V314.7H181.4V316.4H183.8V315.6H186.2V315.2H188.6V315.0H190.9V314.1H193.3V314.6H195.7V315.2H198.1V313.9H200.5V312.3H202.8V314.1H205.2V315.8H207.6V316.3H210.0V316.5H212.4V316.2H214.8V316.4H217.1V316.7H219.5V317.9H221.9V317.9H224.3V317.9H226.7V318.4H229.0V316.7H231.4V316.0H233.8V316.0H236.2V316.0H238.6V315.7H240.9V315.0H243.3V314.7H245.7V314.5H248.1V313.9H250.5V315.2H252.9V316.1H255.2V315.7H257.6V315.6H260.0V315.5H262.4V316.3H264.8V315.0H267.1V315.6H269.5V316.2H271.9V316.5H274.3V313.4H276.7V318.3H279.0V318.6H281.4V316.1H283.8V316.5H286.2V318.9H288.6V319.1H291.0V319.0H293.3V316.9H295.7V317.1H298.1V316.6H300.5V317.1H302.9V317.2H305.2V314.9H307.6V311.9H310.0V312.0H312.4V308.9H314.8V308.3H317.1V308.4H319.5V308.4H321.9V312.4H324.3V308.9H326.7V310.9H329.1V309.1H331.4V307.4H333.8V307.2H336.2V309.4H338.6V310.0H341.0V313.7H343.3V314.4H345.7V316.8H348.1V315.9H350.5V315.2H352.9V313.8H355.2V314.7H357.6V316.4H360.0V313.9H362.4V314.3H364.8V314.0H367.2V314.8H369.5V316.5H371.9V315.8H374.3V316.6H376.7V316.8H379.1V317.8H381.4V318.3H383.8V317.7H386.2V320.9Z" fill="url(#st4)"/>
<rect x="42.6" y="320.2" width="344.3" height="1.5" fill="#141414"/>
<path d="M43.3 341.0V336.5H45.7V336.8H48.1V338.0H50.4V338.0H52.8V338.0H55.2V338.5H57.6V336.8H60.0V336.1H62.4V336.1H64.7V336.1H67.1V335.8H69.5V335.1H71.9V334.8H74.3V334.6H76.6V334.0H79.0V335.3H81.4V336.2H83.8V335.8H86.2V335.7H88.5V335.6H90.9V336.4H93.3V335.1H95.7V335.7H98.1V336.3H100.5V336.6H102.8V333.5H105.2V338.4H107.6V338.7H110.0V336.2H112.4V336.6H114.7V339.0H117.1V339.2H119.5V339.1H121.9V337.0H124.3V337.2H126.6V336.7H129.0V337.2H131.4V337.3H133.8V335.0H136.2V332.0H138.6V332.1H140.9V329.0H143.3V328.4H145.7V328.5H148.1V328.5H150.5V332.5H152.8V329.0H155.2V331.0H157.6V329.2H160.0V327.5H162.4V327.3H164.7V329.5H167.1V330.1H169.5V333.8H171.9V334.5H174.3V336.9H176.7V336.0H179.0V335.3H181.4V333.9H183.8V334.8H186.2V336.5H188.6V334.0H190.9V334.4H193.3V334.1H195.7V334.9H198.1V336.6H200.5V335.9H202.8V336.7H205.2V336.9H207.6V337.9H210.0V338.4H212.4V337.8H214.8V338.0H217.1V338.7H219.5V338.1H221.9V338.4H224.3V338.7H226.7V338.4H229.0V337.2H231.4V337.1H233.8V336.0H236.2V335.3H238.6V335.2H240.9V334.0H243.3V334.1H245.7V335.4H248.1V335.6H250.5V337.5H252.9V338.0H255.2V337.6H257.6V337.9H260.0V337.8H262.4V339.1H264.8V339.4H267.1V339.1H269.5V338.7H271.9V337.7H274.3V337.8H276.7V337.9H279.0V339.2H281.4V336.8H283.8V335.5H286.2V337.4H288.6V339.2H291.0V334.9H293.3V334.4H295.7V335.6H298.1V336.5H300.5V331.8H302.9V329.6H305.2V334.4H307.6V334.7H310.0V333.0H312.4V332.3H314.8V329.9H317.1V331.7H319.5V331.2H321.9V329.8H324.3V331.4H326.7V335.6H329.1V336.1H331.4V336.6H333.8V336.6H336.2V336.5H338.6V337.3H341.0V337.1H343.3V336.3H345.7V336.4H348.1V335.4H350.5V336.7H352.9V336.8H355.2V338.2H357.6V338.3H360.0V338.7H362.4V338.9H364.8V337.7H367.2V338.4H369.5V339.1H371.9V339.5H374.3V339.1H376.7V338.7H379.1V338.3H381.4V337.9H383.8V337.9H386.2V341.0Z" fill="url(#st4)"/>
<rect x="42.6" y="340.3" width="344.3" height="1.5" fill="#141414"/>
<path d="M43.3 361.1V358.1H45.7V358.8H48.1V358.2H50.4V358.5H52.8V358.8H55.2V358.5H57.6V357.3H60.0V357.2H62.4V356.1H64.7V355.4H67.1V355.3H69.5V354.1H71.9V354.2H74.3V355.5H76.6V355.7H79.0V357.6H81.4V358.1H83.8V357.7H86.2V358.0H88.5V357.9H90.9V359.2H93.3V359.5H95.7V359.2H98.1V358.8H100.5V357.8H102.8V357.9H105.2V358.0H107.6V359.3H110.0V356.9H112.4V355.6H114.7V357.5H117.1V359.3H119.5V355.0H121.9V354.5H124.3V355.7H126.6V356.6H129.0V351.9H131.4V349.7H133.8V354.5H136.2V354.8H138.6V353.1H140.9V352.4H143.3V350.0H145.7V351.8H148.1V351.3H150.5V349.9H152.8V351.5H155.2V355.7H157.6V356.2H160.0V356.7H162.4V356.7H164.7V356.6H167.1V357.4H169.5V357.2H171.9V356.4H174.3V356.5H176.7V355.5H179.0V356.8H181.4V356.9H183.8V358.3H186.2V358.4H188.6V358.8H190.9V359.0H193.3V357.8H195.7V358.5H198.1V359.2H200.5V359.6H202.8V359.2H205.2V358.8H207.6V358.4H210.0V358.0H212.4V358.0H214.8V356.0H217.1V356.3H219.5V356.6H221.9V356.0H224.3V356.9H226.7V357.3H229.0V356.6H231.4V356.1H233.8V356.3H236.2V355.8H238.6V355.0H240.9V356.3H243.3V356.2H245.7V357.5H248.1V357.8H250.5V358.0H252.9V357.7H255.2V357.0H257.6V357.1H260.0V358.3H262.4V358.3H264.8V358.2H267.1V358.9H269.5V359.1H271.9V359.3H274.3V359.2H276.7V356.6H279.0V353.6H281.4V354.2H283.8V355.7H286.2V355.0H288.6V356.3H291.0V355.3H293.3V355.3H295.7V354.3H298.1V352.1H300.5V352.6H302.9V353.9H305.2V351.3H307.6V348.8H310.0V350.3H312.4V351.9H314.8V352.7H317.1V351.1H319.5V353.9H321.9V354.9H324.3V355.6H326.7V355.2H329.1V356.5H331.4V357.1H333.8V356.9H336.2V357.0H338.6V357.3H341.0V357.8H343.3V358.4H345.7V357.4H348.1V357.5H350.5V358.0H352.9V358.1H355.2V358.0H357.6V358.5H360.0V358.4H362.4V358.0H364.8V358.4H367.2V358.7H369.5V358.6H371.9V359.0H374.3V358.7H376.7V358.8H379.1V358.5H381.4V358.6H383.8V358.5H386.2V361.1Z" fill="url(#st4)"/>
<rect x="42.6" y="360.4" width="344.3" height="1.5" fill="#141414"/>
<path d="M43.3 381.2V376.1H45.7V376.4H48.1V376.7H50.4V376.1H52.8V377.0H55.2V377.4H57.6V376.7H60.0V376.2H62.4V376.4H64.7V375.9H67.1V375.1H69.5V376.4H71.9V376.3H74.3V377.6H76.6V377.9H79.0V378.1H81.4V377.8H83.8V377.1H86.2V377.2H88.5V378.4H90.9V378.4H93.3V378.3H95.7V379.0H98.1V379.2H100.5V379.4H102.8V379.3H105.2V376.7H107.6V373.7H110.0V374.3H112.4V375.8H114.7V375.1H117.1V376.4H119.5V375.4H121.9V375.4H124.3V374.4H126.6V372.2H129.0V372.7H131.4V374.0H133.8V371.4H136.2V368.9H138.6V370.4H140.9V372.0H143.3V372.8H145.7V371.2H148.1V374.0H150.5V375.0H152.8V375.7H155.2V375.3H157.6V376.6H160.0V377.2H162.4V377.0H164.7V377.1H167.1V377.4H169.5V377.9H171.9V378.5H174.3V377.5H176.7V377.6H179.0V378.1H181.4V378.2H183.8V378.1H186.2V378.6H188.6V378.5H190.9V378.1H193.3V378.5H195.7V378.8H198.1V378.7H200.5V379.1H202.8V378.8H205.2V378.9H207.6V378.6H210.0V378.7H212.4V378.6H214.8V378.4H217.1V378.2H219.5V374.8H221.9V377.5H224.3V378.5H226.7V378.4H229.0V377.3H231.4V377.0H233.8V377.6H236.2V377.2H238.6V377.6H240.9V376.4H243.3V376.7H245.7V377.0H248.1V377.1H250.5V377.0H252.9V378.5H255.2V378.5H257.6V377.5H260.0V376.1H262.4V376.2H264.8V376.0H267.1V376.1H269.5V378.4H271.9V378.7H274.3V378.6H276.7V378.8H279.0V377.7H281.4V377.5H283.8V377.8H286.2V377.2H288.6V375.9H291.0V375.0H293.3V374.8H295.7V373.6H298.1V373.0H300.5V375.3H302.9V375.4H305.2V373.5H307.6V376.1H310.0V374.0H312.4V374.0H314.8V375.5H317.1V376.6H319.5V375.8H321.9V375.5H324.3V377.1H326.7V376.5H329.1V377.6H331.4V377.9H333.8V377.9H336.2V378.1H338.6V378.1H341.0V378.1H343.3V379.2H345.7V379.5H348.1V379.4H350.5V378.8H352.9V379.0H355.2V379.1H357.6V378.7H360.0V378.4H362.4V378.6H364.8V378.3H367.2V379.1H369.5V379.5H371.9V379.2H374.3V379.0H376.7V378.6H379.1V378.7H381.4V378.7H383.8V378.6H386.2V381.2Z" fill="url(#st4)"/>
<rect x="42.6" y="380.5" width="344.3" height="1.5" fill="#141414"/>
<path d="M43.3 401.3V398.5H45.7V398.3H48.1V394.9H50.4V397.6H52.8V398.6H55.2V398.5H57.6V397.4H60.0V397.1H62.4V397.7H64.7V397.3H67.1V397.7H69.5V396.5H71.9V396.8H74.3V397.1H76.6V397.2H79.0V397.1H81.4V398.6H83.8V398.6H86.2V397.6H88.5V396.2H90.9V396.3H93.3V396.1H95.7V396.2H98.1V398.5H100.5V398.8H102.8V398.7H105.2V398.9H107.6V397.8H110.0V397.6H112.4V397.9H114.7V397.3H117.1V396.0H119.5V395.1H121.9V394.9H124.3V393.7H126.6V393.1H129.0V395.4H131.4V395.5H133.8V393.6H136.2V396.2H138.6V394.1H140.9V394.1H143.3V395.6H145.7V396.7H148.1V395.9H150.5V395.6H152.8V397.2H155.2V396.6H157.6V397.7H160.0V398.0H162.4V398.0H164.7V398.2H167.1V398.2H169.5V398.2H171.9V399.3H174.3V399.6H176.7V399.5H179.0V398.9H181.4V399.1H183.8V399.2H186.2V398.8H188.6V398.5H190.9V398.7H193.3V398.4H195.7V399.2H198.1V399.6H200.5V399.3H202.8V399.1H205.2V398.7H207.6V398.8H210.0V398.8H212.4V398.7H214.8V398.3H217.1V399.0H219.5V399.3H221.9V399.1H224.3V399.3H226.7V399.3H229.0V399.2H231.4V400.5H233.8V398.6H236.2V398.2H238.6V398.5H240.9V399.6H243.3V398.4H245.7V398.7H248.1V399.3H250.5V399.4H252.9V398.8H255.2V398.1H257.6V397.8H260.0V398.0H262.4V396.1H264.8V397.7H267.1V398.0H269.5V397.7H271.9V396.8H274.3V397.1H276.7V396.5H279.0V395.3H281.4V395.0H283.8V394.4H286.2V394.5H288.6V394.4H291.0V394.3H293.3V396.3H295.7V397.5H298.1V397.7H300.5V398.0H302.9V398.2H305.2V395.9H307.6V396.3H310.0V396.1H312.4V397.3H314.8V397.9H317.1V397.8H319.5V398.2H321.9V398.0H324.3V398.2H326.7V396.8H329.1V396.1H331.4V396.9H333.8V398.6H336.2V398.4H338.6V399.3H341.0V399.5H343.3V399.5H345.7V399.5H348.1V399.2H350.5V399.2H352.9V399.6H355.2V399.4H357.6V399.4H360.0V400.2H362.4V399.6H364.8V399.9H367.2V399.3H369.5V399.6H371.9V399.6H374.3V399.1H376.7V398.2H379.1V398.3H381.4V398.3H383.8V398.6H386.2V401.3Z" fill="url(#st4)"/>
<rect x="42.6" y="400.6" width="344.3" height="1.5" fill="#141414"/>
<path d="M43.3 421.4V418.4H45.7V419.1H48.1V419.4H50.4V419.2H52.8V419.4H55.2V419.4H57.6V419.3H60.0V420.6H62.4V418.7H64.7V418.3H67.1V418.6H69.5V419.7H71.9V418.5H74.3V418.8H76.6V419.4H79.0V419.5H81.4V418.9H83.8V418.2H86.2V417.9H88.5V418.1H90.9V416.2H93.3V417.8H95.7V418.1H98.1V417.8H100.5V416.9H102.8V417.2H105.2V416.6H107.6V415.4H110.0V415.1H112.4V414.5H114.7V414.6H117.1V414.5H119.5V414.4H121.9V416.4H124.3V417.6H126.6V417.8H129.0V418.1H131.4V418.3H133.8V416.0H136.2V416.4H138.6V416.2H140.9V417.4H143.3V418.0H145.7V417.9H148.1V418.3H150.5V418.1H152.8V418.3H155.2V416.9H157.6V416.2H160.0V417.0H162.4V418.7H164.7V418.5H167.1V419.4H169.5V419.6H171.9V419.6H174.3V419.6H176.7V419.3H179.0V419.3H181.4V419.7H183.8V419.5H186.2V419.5H188.6V420.3H190.9V419.7H193.3V420.0H195.7V419.4H198.1V419.7H200.5V419.7H202.8V419.2H205.2V418.3H207.6V418.4H210.0V418.4H212.4V418.7H214.8V417.5H217.1V417.4H219.5V418.1H221.9V417.9H224.3V418.2H226.7V419.4H229.0V419.4H231.4V419.7H233.8V419.3H236.2V419.7H238.6V419.5H240.9V419.5H243.3V419.5H245.7V419.5H248.1V419.5H250.5V418.9H252.9V418.6H255.2V418.6H257.6V418.7H260.0V418.6H262.4V418.4H264.8V418.7H267.1V418.5H269.5V418.3H271.9V417.4H274.3V417.9H276.7V417.8H279.0V417.7H281.4V417.4H283.8V416.7H286.2H286.2V421.4Z" fill="url(#st4)"/>
<rect x="42.6" y="420.7" width="344.3" height="1.5" fill="#141414"/>
<rect x="42.8" y="244.5" width="343.9" height="177.6" fill="none" stroke="#303030" stroke-width="1.25"/>
<polygon points="163.8,302.2 336.7,302.2 299.9,420.6 127.3,420.6" fill="none" stroke="#e0212b" stroke-width="2.2" stroke-linejoin="miter"/>
<rect x="448.5" y="244.5" width="343.9" height="176.9" fill="#e5e5e5"/>
<rect x="491.3" y="244.5" width="87.0" height="16.1" fill="#fff"/>
<rect x="663.8" y="244.5" width="86.5" height="16.1" fill="#fff"/>
<rect x="491.3" y="261.3" width="87.0" height="19.4" fill="#fff"/>
<rect x="663.8" y="261.3" width="86.5" height="19.4" fill="#fff"/>
<path d="M449.0 260.6V256.6H451.4V256.8H453.8V257.5H456.1V257.6H458.5V254.7H460.9V255.8H463.3V255.2H465.7V256.6H468.1V255.0H470.4V254.0H472.8V253.3H475.2V253.2H477.6V253.0H480.0V253.0H482.3V250.4H484.7V246.9H487.1V248.8H489.5V245.2H491.9V245.1H494.2V246.6H496.6V250.6H499.0V249.2H501.4V250.5H503.8V254.7H506.2V257.4H508.5V257.0H510.9V259.1H513.3V257.9H515.7V258.1H518.1V259.9H520.4V259.9H522.8V259.9H525.2V259.9H527.6V259.9H530.0V259.9H532.3V259.9H534.7V259.9H537.1V259.9H539.5V259.9H541.9V259.9H544.2V259.9H546.6V259.9H549.0V259.9H551.4V259.9H553.8V259.9H556.2V259.9H558.5V259.9H560.9V259.9H563.3V259.9H565.7V259.8H568.1V258.0H570.4V256.0H572.8V249.6H575.2V244.6H577.6V244.6H580.0V244.6H582.4V244.6H584.7V244.6H587.1V251.0H589.5V256.0H591.9V256.8H594.3V257.7H596.6V257.0H599.0V255.0H601.4V252.8H603.8V254.7H606.2V255.8H608.5V256.5H610.9V255.6H613.3V257.2H615.7V255.7H618.1V254.7H620.4V256.6H622.8V258.7H625.2V258.8H627.6V255.3H630.0V253.4H632.4V256.7H634.7V258.0H637.1V256.8H639.5V255.6H641.9V255.7H644.3V256.0H646.6V254.6H649.0V254.2H651.4V254.0H653.8V254.0H656.2V253.2H658.5V249.8H660.9V248.8H663.3V246.8H665.7V249.3H668.1V252.5H670.5V254.0H672.8V255.3H675.2V256.7H677.6V259.4H680.0V259.9H682.4V259.9H684.7V259.9H687.1V259.9H689.5V259.9H691.9V259.9H694.3V259.9H696.6V259.9H699.0V259.9H701.4V259.9H703.8V259.9H706.2V259.9H708.6V259.9H710.9V259.9H713.3V259.9H715.7V259.9H718.1V259.9H720.5V259.9H722.8V259.9H725.2V259.9H727.6V259.9H730.0V259.9H732.4V259.9H734.8V259.9H737.1V259.9H739.5V258.2H741.9V255.1H744.3V252.3H746.7V244.6H749.0V244.6H751.4V244.6H753.8V244.6H756.2V244.6H758.6V248.8H760.9V253.4H763.3V254.8H765.7V255.0H768.1V255.4H770.5V255.5H772.9V256.2H775.2V256.9H777.6V256.6H780.0V257.6H782.4V257.9H784.8V257.5H787.1V256.1H789.5V257.8H791.9V260.6Z" fill="url(#st5)"/>
<rect x="448.3" y="259.9" width="344.3" height="1.5" fill="#141414"/>
<path d="M449.0 280.7V276.7H451.4V278.8H453.8V278.9H456.1V275.4H458.5V273.5H460.9V276.8H463.3V278.1H465.7V276.9H468.1V275.7H470.4V275.8H472.8V276.1H475.2V274.7H477.6V274.3H480.0V274.1H482.3V274.1H484.7V273.3H487.1V269.9H489.5V268.9H491.9V266.9H494.2V269.4H496.6V272.6H499.0V274.1H501.4V275.4H503.8V276.8H506.2V279.5H508.5V280.0H510.9V280.0H513.3V280.0H515.7V280.0H518.1V280.0H520.4V280.0H522.8V280.0H525.2V280.0H527.6V280.0H530.0V280.0H532.3V280.0H534.7V280.0H537.1V280.0H539.5V280.0H541.9V280.0H544.2V280.0H546.6V280.0H549.0V280.0H551.4V280.0H553.8V280.0H556.2V280.0H558.5V280.0H560.9V280.0H563.3V280.0H565.7V280.0H568.1V278.3H570.4V275.2H572.8V272.4H575.2V264.7H577.6V264.7H580.0V264.7H582.4V264.7H584.7V264.7H587.1V268.9H589.5V273.5H591.9V274.9H594.3V275.1H596.6V275.5H599.0V275.6H601.4V276.3H603.8V277.0H606.2V276.7H608.5V277.7H610.9V278.0H613.3V277.6H615.7V276.2H618.1V277.9H620.4V279.9H622.8V279.9H625.2V279.9H627.6V277.1H630.0V276.7H632.4V274.9H634.7V277.3H637.1V277.3H639.5V276.5H641.9V273.7H644.3V272.5H646.6V273.7H649.0V273.9H651.4V274.1H653.8V274.1H656.2V274.1H658.5V275.0H660.9V276.3H663.3V275.2H665.7V275.7H668.1V274.8H670.5V273.7H672.8V272.6H675.2V274.6H677.6V275.7H680.0V276.7H682.4V277.8H684.7V277.6H687.1V277.4H689.5V278.0H691.9V278.4H694.3V279.3H696.6V279.8H699.0V279.8H701.4V279.8H703.8V279.8H706.2V279.8H708.6V279.8H710.9V279.8H713.3V279.8H715.7V279.8H718.1V279.8H720.5V279.0H722.8V278.4H725.2V276.4H727.6V272.2H730.0V270.2H732.4V268.0H734.8V267.1H737.1V268.0H739.5V269.7H741.9V268.1H744.3V264.5H746.7V266.3H749.0V265.8H751.4V266.2H753.8V266.2H756.2V266.7H758.6V271.9H760.9V276.7H763.3V280.0H765.7V280.0H768.1V280.0H770.5V280.0H772.9V280.0H775.2V280.0H777.6V280.0H780.0V280.0H782.4V280.0H784.8V280.0H787.1V280.0H789.5V280.0H791.9V280.7Z" fill="url(#st5)"/>
<rect x="448.3" y="280.0" width="344.3" height="1.5" fill="#141414"/>
<path d="M449.0 300.8V300.0H451.4V300.0H453.8V300.0H456.1V297.2H458.5V296.8H460.9V295.0H463.3V297.4H465.7V297.4H468.1V296.6H470.4V293.8H472.8V292.6H475.2V293.8H477.6V294.0H480.0V294.2H482.3V294.2H484.7V294.2H487.1V295.1H489.5V296.4H491.9V295.3H494.2V295.8H496.6V294.9H499.0V293.8H501.4V292.7H503.8V294.7H506.2V295.8H508.5V296.8H510.9V297.9H513.3V297.7H515.7V297.5H518.1V298.1H520.4V298.5H522.8V299.4H525.2V299.9H527.6V299.9H530.0V299.9H532.3V299.9H534.7V299.9H537.1V299.9H539.5V299.9H541.9V299.9H544.2V299.9H546.6V299.9H549.0V299.1H551.4V298.5H553.8V296.5H556.2V292.3H558.5V290.3H560.9V288.1H563.3V287.2H565.7V288.1H568.1V289.8H570.4V288.2H572.8V284.6H575.2V286.4H577.6V285.9H580.0V286.3H582.4V286.3H584.7V286.8H587.1V292.0H589.5V296.8H591.9V300.1H594.3V300.1H596.6V300.1H599.0V300.1H601.4V300.1H603.8V300.1H606.2V300.1H608.5V300.1H610.9V300.1H613.3V300.1H615.7V300.1H618.1V300.1H620.4V300.1H622.8V300.1H625.2V300.1H627.6V300.1H630.0V300.1H632.4V300.1H634.7V300.1H637.1V300.1H639.5V300.1H641.9V300.1H644.3V300.1H646.6V300.1H649.0V300.1H651.4V300.1H653.8V300.1H656.2V300.1H658.5V300.1H660.9V300.1H663.3V297.8H665.7V296.0H668.1V296.3H670.5V295.9H672.8V296.5H675.2V296.3H677.6V298.7H680.0V299.1H682.4V298.9H684.7V298.8H687.1V299.9H689.5V298.8H691.9V298.5H694.3V299.8H696.6V300.1H699.0V300.1H701.4V300.1H703.8V300.1H706.2V300.1H708.6V300.1H710.9V298.8H713.3V299.0H715.7V298.7H718.1V297.0H720.5V295.3H722.8V294.9H725.2V292.1H727.6V291.3H730.0V290.8H732.4V290.0H734.8V289.3H737.1V291.0H739.5V290.0H741.9V288.7H744.3V289.8H746.7V286.5H749.0V288.3H751.4V288.3H753.8V288.9H756.2V290.1H758.6V291.7H760.9V294.5H763.3V295.9H765.7V294.4H768.1V295.8H770.5V295.4H772.9V294.8H775.2V293.9H777.6V294.4H780.0V296.0H782.4V297.2H784.8V297.8H787.1V298.6H789.5V298.1H791.9V300.8Z" fill="url(#st5)"/>
<rect x="448.3" y="300.1" width="344.3" height="1.5" fill="#141414"/>
<path d="M449.0 320.9V320.2H451.4V320.2H453.8V320.2H456.1V320.2H458.5V320.2H460.9V320.2H463.3V320.2H465.7V320.2H468.1V320.2H470.4V320.2H472.8V320.2H475.2V320.2H477.6V320.2H480.0V320.2H482.3V320.2H484.7V320.2H487.1V320.2H489.5V320.2H491.9V317.9H494.2V316.1H496.6V316.4H499.0V316.0H501.4V316.6H503.8V316.4H506.2V318.8H508.5V319.2H510.9V319.0H513.3V318.9H515.7V320.0H518.1V318.9H520.4V318.6H522.8V319.9H525.2V320.2H527.6V320.2H530.0V320.2H532.3V320.2H534.7V320.2H537.1V320.2H539.5V318.9H541.9V319.1H544.2V318.8H546.6V317.1H549.0V315.4H551.4V315.0H553.8V312.2H556.2V311.4H558.5V310.9H560.9V310.1H563.3V309.4H565.7V311.1H568.1V310.1H570.4V308.8H572.8V309.9H575.2V306.6H577.6V308.4H580.0V308.4H582.4V309.0H584.7V310.2H587.1V311.8H589.5V314.6H591.9V316.0H594.3V314.5H596.6V315.9H599.0V315.5H601.4V314.9H603.8V314.0H606.2V314.5H608.5V316.1H610.9V317.3H613.3V317.9H615.7V318.7H618.1V318.2H620.4V319.3H622.8V318.9H625.2V318.9H627.6V318.6H630.0V317.7H632.4V317.8H634.7V316.0H637.1V316.4H639.5V316.0H641.9V316.5H644.3V313.4H646.6V312.9H649.0V313.6H651.4V314.9H653.8V315.0H656.2V316.1H658.5V318.1H660.9V319.3H663.3V319.7H665.7V318.6H668.1V318.6H670.5V318.6H672.8V318.5H675.2V319.0H677.6V319.9H680.0V319.9H682.4V319.9H684.7V319.9H687.1V319.8H689.5V318.5H691.9V318.4H694.3V319.7H696.6V319.9H699.0V319.7H701.4V318.3H703.8V318.3H706.2V319.2H708.6V320.1H710.9V319.9H713.3V317.8H715.7V318.1H718.1V318.8H720.5V316.2H722.8V311.7H725.2V314.4H727.6V309.8H730.0V309.2H732.4V309.4H734.8V309.7H737.1V308.7H739.5V309.3H741.9V308.1H744.3V308.2H746.7V308.5H749.0V309.8H751.4V309.4H753.8V312.8H756.2V313.2H758.6V313.0H760.9V316.3H763.3V315.1H765.7V314.3H768.1V316.3H770.5V317.7H772.9V316.8H775.2V315.1H777.6V316.4H780.0V317.5H782.4V316.8H784.8V317.0H787.1V317.9H789.5V318.4H791.9V320.9Z" fill="url(#st5)"/>
<rect x="448.3" y="320.2" width="344.3" height="1.5" fill="#141414"/>
<path d="M449.0 341.0V339.4H451.4V339.0H453.8V339.0H456.1V338.7H458.5V337.8H460.9V337.9H463.3V336.1H465.7V336.5H468.1V336.1H470.4V336.6H472.8V333.5H475.2V333.0H477.6V333.7H480.0V335.0H482.3V335.1H484.7V336.2H487.1V338.2H489.5V339.4H491.9V339.8H494.2V338.7H496.6V338.7H499.0V338.7H501.4V338.6H503.8V339.1H506.2V340.0H508.5V340.0H510.9V340.0H513.3V340.0H515.7V339.9H518.1V338.6H520.4V338.5H522.8V339.8H525.2V340.0H527.6V339.8H530.0V338.4H532.3V338.4H534.7V339.3H537.1V340.2H539.5V340.0H541.9V337.9H544.2V338.2H546.6V338.9H549.0V336.3H551.4V331.8H553.8V334.5H556.2V329.9H558.5V329.3H560.9V329.5H563.3V329.8H565.7V328.8H568.1V329.4H570.4V328.2H572.8V328.3H575.2V328.6H577.6V329.9H580.0V329.5H582.4V332.9H584.7V333.3H587.1V333.1H589.5V336.4H591.9V335.2H594.3V334.4H596.6V336.4H599.0V337.8H601.4V336.9H603.8V335.2H606.2V336.5H608.5V337.6H610.9V336.9H613.3V337.1H615.7V338.0H618.1V338.5H620.4V339.1H622.8V339.3H625.2V339.4H627.6V340.0H630.0V339.8H632.4V339.0H634.7V338.3H637.1V338.0H639.5V336.8H641.9V335.3H644.3V335.3H646.6V337.1H649.0V338.3H651.4V338.2H653.8V340.1H656.2V340.2H658.5V340.2H660.9V340.2H663.3V340.2H665.7V340.2H668.1V340.2H670.5V338.4H672.8V338.4H675.2V338.6H677.6V340.0H680.0V340.0H682.4V340.0H684.7V340.0H687.1V339.8H689.5V339.8H691.9V340.0H694.3V340.3H696.6V340.3H699.0V340.3H701.4V340.3H703.8V340.3H706.2V340.3H708.6V339.5H710.9V335.3H713.3V333.6H715.7V335.5H718.1V332.1H720.5V333.5H722.8V333.8H725.2V333.1H727.6V331.6H730.0V332.7H732.4V331.2H734.8V330.9H737.1V330.3H739.5V331.1H741.9V331.0H744.3V331.0H746.7V332.2H749.0V333.9H751.4V333.1H753.8V333.2H756.2V329.6H758.6V330.9H760.9V335.3H763.3V338.9H765.7V339.3H768.1V339.0H770.5V339.6H772.9V339.5H775.2V339.1H777.6V339.5H780.0V339.6H782.4V340.0H784.8V340.0H787.1V340.0H789.5V340.0H791.9V341.0Z" fill="url(#st5)"/>
<rect x="448.3" y="340.3" width="344.3" height="1.5" fill="#141414"/>
<path d="M449.0 361.1V359.2H451.4V359.4H453.8V359.5H456.1V360.1H458.5V359.9H460.9V359.1H463.3V358.4H465.7V358.1H468.1V356.9H470.4V355.4H472.8V355.4H475.2V357.2H477.6V358.4H480.0V358.3H482.3V360.2H484.7V360.3H487.1V360.3H489.5V360.3H491.9V360.3H494.2V360.3H496.6V360.3H499.0V358.5H501.4V358.5H503.8V358.7H506.2V360.1H508.5V360.1H510.9V360.1H513.3V360.1H515.7V359.9H518.1V359.9H520.4V360.1H522.8V360.4H525.2V360.4H527.6V360.4H530.0V360.4H532.3V360.4H534.7V360.4H537.1V359.6H539.5V355.4H541.9V353.7H544.2V355.6H546.6V352.2H549.0V353.6H551.4V353.9H553.8V353.2H556.2V351.7H558.5V352.8H560.9V351.3H563.3V351.0H565.7V350.4H568.1V351.2H570.4V351.1H572.8V351.1H575.2V352.3H577.6V354.0H580.0V353.2H582.4V353.3H584.7V349.7H587.1V351.0H589.5V355.4H591.9V359.0H594.3V359.4H596.6V359.1H599.0V359.7H601.4V359.6H603.8V359.2H606.2V359.6H608.5V359.7H610.9V360.1H613.3V360.1H615.7V360.1H618.1V360.1H620.4V360.3H622.8V360.3H625.2V360.0H627.6V359.3H630.0V357.1H632.4V355.8H634.7V355.9H637.1V356.9H639.5V358.4H641.9V359.5H644.3V360.1H646.6V360.1H649.0V360.1H651.4V360.1H653.8V360.1H656.2V359.1H658.5V358.6H660.9V358.8H663.3V358.8H665.7V358.9H668.1V359.4H670.5V359.4H672.8V358.6H675.2V359.6H677.6V359.9H680.0V359.9H682.4V359.9H684.7V360.4H687.1V360.4H689.5V360.4H691.9V360.0H694.3V359.4H696.6V357.0H699.0V357.1H701.4V358.1H703.8V356.8H706.2V353.6H708.6V354.7H710.9V353.5H713.3V351.8H715.7V351.3H718.1V353.1H720.5V351.6H722.8V351.3H725.2V351.1H727.6V351.8H730.0V352.0H732.4V349.4H734.8V353.1H737.1V353.1H739.5V352.7H741.9V353.4H744.3V353.6H746.7V354.6H749.0V355.4H751.4V352.1H753.8V350.7H756.2V351.0H758.6V352.2H760.9V356.3H763.3V359.3H765.7V358.9H768.1V358.5H770.5V358.5H772.9V358.6H775.2V358.6H777.6V359.7H780.0V359.4H782.4V359.3H784.8V359.6H787.1V359.3H789.5V359.2H791.9V361.1Z" fill="url(#st5)"/>
<rect x="448.3" y="360.4" width="344.3" height="1.5" fill="#141414"/>
<path d="M449.0 381.2V380.4H451.4V380.4H453.8V380.1H456.1V379.4H458.5V377.2H460.9V375.9H463.3V376.0H465.7V377.0H468.1V378.5H470.4V379.6H472.8V380.2H475.2V380.2H477.6V380.2H480.0V380.2H482.3V380.2H484.7V379.2H487.1V378.7H489.5V378.9H491.9V378.9H494.2V379.0H496.6V379.5H499.0V379.5H501.4V378.7H503.8V379.7H506.2V380.0H508.5V380.0H510.9V380.0H513.3V380.5H515.7V380.5H518.1V380.5H520.4V380.1H522.8V379.5H525.2V377.1H527.6V377.2H530.0V378.2H532.3V376.9H534.7V373.7H537.1V374.8H539.5V373.6H541.9V371.9H544.2V371.4H546.6V373.2H549.0V371.7H551.4V371.4H553.8V371.2H556.2V371.9H558.5V372.1H560.9V369.5H563.3V373.2H565.7V373.2H568.1V372.8H570.4V373.5H572.8V373.7H575.2V374.7H577.6V375.5H580.0V372.2H582.4V370.8H584.7V371.1H587.1V372.3H589.5V376.4H591.9V379.4H594.3V379.0H596.6V378.6H599.0V378.6H601.4V378.7H603.8V378.7H606.2V379.8H608.5V379.5H610.9V379.4H613.3V379.7H615.7V379.4H618.1V379.3H620.4V379.3H622.8V378.7H625.2V377.7H627.6V377.8H630.0V377.9H632.4V377.7H634.7V378.5H637.1V379.0H639.5V378.8H641.9V378.7H644.3V380.2H646.6V380.2H649.0V380.2H651.4V376.9H653.8V377.8H656.2V375.5H658.5V375.3H660.9V375.6H663.3V378.4H665.7V380.2H668.1V380.2H670.5V380.2H672.8V380.2H675.2V379.0H677.6V379.0H680.0V380.4H682.4V380.4H684.7V380.4H687.1V379.1H689.5V379.7H691.9V379.3H694.3V379.0H696.6V377.1H699.0V377.3H701.4V374.4H703.8V374.0H706.2V372.5H708.6V373.2H710.9V371.6H713.3V372.0H715.7V370.7H718.1V372.3H720.5V370.6H722.8V371.8H725.2V373.2H727.6V372.6H730.0V373.7H732.4V372.5H734.8V375.4H737.1V373.2H739.5V373.8H741.9V373.1H744.3V373.6H746.7V376.7H749.0V377.0H751.4V378.9H753.8V377.9H756.2V376.3H758.6V371.6H760.9V373.1H763.3V374.5H765.7V379.2H768.1V380.4H770.5V380.4H772.9V380.4H775.2V380.4H777.6V380.4H780.0V379.2H782.4V378.7H784.8V378.6H787.1V378.2H789.5V378.2H791.9V381.2Z" fill="url(#st5)"/>
<rect x="448.3" y="380.5" width="344.3" height="1.5" fill="#141414"/>
<path d="M449.0 401.3V399.4H451.4V398.8H453.8V397.8H456.1V397.9H458.5V398.0H460.9V397.8H463.3V398.6H465.7V399.1H468.1V398.9H470.4V398.8H472.8V400.3H475.2V400.3H477.6V400.3H480.0V397.0H482.3V397.9H484.7V395.6H487.1V395.4H489.5V395.7H491.9V398.5H494.2V400.3H496.6V400.3H499.0V400.3H501.4V400.3H503.8V399.1H506.2V399.1H508.5V400.5H510.9V400.5H513.3V400.5H515.7V399.2H518.1V399.8H520.4V399.4H522.8V399.1H525.2V397.2H527.6V397.4H530.0V394.5H532.3V394.1H534.7V392.6H537.1V393.3H539.5V391.7H541.9V392.1H544.2V390.8H546.6V392.4H549.0V390.7H551.4V391.9H553.8V393.3H556.2V392.7H558.5V393.8H560.9V392.6H563.3V395.5H565.7V393.3H568.1V393.9H570.4V393.2H572.8V393.7H575.2V396.8H577.6V397.1H580.0V399.0H582.4V398.0H584.7V396.4H587.1V391.7H589.5V393.2H591.9V394.6H594.3V399.3H596.6V400.5H599.0V400.5H601.4V400.5H603.8V400.5H606.2V400.5H608.5V399.3H610.9V398.8H613.3V398.7H615.7V398.3H618.1V398.3H620.4V398.8H622.8V398.2H625.2V398.5H627.6V398.8H630.0V398.8H632.4V397.9H634.7V398.9H637.1V399.0H639.5V397.9H641.9V398.2H644.3V397.7H646.6V398.6H649.0V397.9H651.4V398.8H653.8V399.0H656.2V396.4H658.5V396.8H660.9V399.0H663.3V398.7H665.7V399.1H668.1V398.8H670.5V398.7H672.8V396.9H675.2V395.9H677.6V396.5H680.0V397.3H682.4V397.9H684.7V396.2H687.1V397.0H689.5V395.5H691.9V394.2H694.3V393.2H696.6V392.8H699.0V393.5H701.4V391.8H703.8V394.2H706.2V392.9H708.6V392.8H710.9V393.8H713.3V395.5H715.7V395.6H718.1V395.0H720.5V394.0H722.8V394.6H725.2V394.0H727.6V394.9H730.0V394.5H732.4V395.6H734.8V396.5H737.1V396.4H739.5V396.2H741.9V396.8H744.3V396.9H746.7V396.0H749.0V397.9H751.4V397.7H753.8V397.8H756.2V398.1H758.6V399.6H760.9V399.5H763.3V399.5H765.7V399.5H768.1V399.5H770.5V400.3H772.9V400.3H775.2V400.3H777.6V400.3H780.0V398.8H782.4V399.5H784.8V398.4H787.1V397.5H789.5V397.3H791.9V401.3Z" fill="url(#st5)"/>
<rect x="448.3" y="400.6" width="344.3" height="1.5" fill="#141414"/>
<path d="M449.0 421.4V418.9H451.4V418.3H453.8V418.6H456.1V418.9H458.5V418.9H460.9V418.0H463.3V419.0H465.7V419.1H468.1V418.0H470.4V418.3H472.8V417.8H475.2V418.7H477.6V418.0H480.0V418.9H482.3V419.1H484.7V416.5H487.1V416.9H489.5V419.1H491.9V418.8H494.2V419.2H496.6V418.9H499.0V418.8H501.4V417.0H503.8V416.0H506.2V416.6H508.5V417.4H510.9V418.0H513.3V416.3H515.7V417.1H518.1V415.6H520.4V414.3H522.8V413.3H525.2V412.9H527.6V413.6H530.0V411.9H532.3V414.3H534.7V413.0H537.1V412.9H539.5V413.9H541.9V415.6H544.2V415.7H546.6V415.1H549.0V414.1H551.4V414.7H553.8V414.1H556.2V415.0H558.5V414.6H560.9V415.7H563.3V416.6H565.7V416.5H568.1V416.3H570.4V416.9H572.8V417.0H575.2V416.1H577.6V418.0H580.0V417.8H582.4V417.9H584.7V418.2H587.1V419.7H589.5V419.6H591.9V419.6H594.3V419.6H596.6V419.6H599.0V420.4H601.4V420.4H603.8V420.4H606.2V420.4H608.5V418.9H610.9V419.6H613.3V418.5H615.7V417.6H618.1V417.4H620.4V419.1H622.8V419.1H625.2V418.9H627.6V419.0H630.0V419.3H632.4V417.3H634.7V415.9H637.1V416.5H639.5V419.2H641.9V419.5H644.3V419.1H646.6V418.9H649.0V417.6H651.4V417.3H653.8V417.1H656.2V417.7H658.5V417.9H660.9V417.5H663.3V417.5H665.7V415.9H668.1V415.4H670.5V416.0H672.8V415.5H675.2V415.9H677.6V417.0H680.0V415.7H682.4V416.5H684.7V417.7H687.1V417.1H689.5V415.6H691.9V416.1H694.3V416.3H696.6V415.6H699.0V415.5H701.4V417.3H703.8H703.8V421.4Z" fill="url(#st5)"/>
<rect x="448.3" y="420.7" width="344.3" height="1.5" fill="#141414"/>
<rect x="448.5" y="244.5" width="343.9" height="177.6" fill="none" stroke="#303030" stroke-width="1.25"/>
<polygon points="576.4,302.2 748.8,302.2 717.6,420.6 545.6,420.6" fill="none" stroke="#e0212b" stroke-width="2.2" stroke-linejoin="miter"/>
<rect x="853.6" y="244.5" width="343.9" height="176.9" fill="#e5e5e5"/>
<rect x="896.4" y="244.5" width="87.0" height="16.1" fill="#fff"/>
<rect x="1068.9" y="244.5" width="86.5" height="16.1" fill="#fff"/>
<rect x="896.4" y="261.3" width="87.0" height="19.4" fill="#fff"/>
<rect x="1068.9" y="261.3" width="86.5" height="19.4" fill="#fff"/>
<path d="M854.1 260.6V259.6H856.5V259.6H858.9V259.6H861.2V257.2H863.6V255.9H866.0V254.9H868.4V251.4H870.8V253.8H873.2V255.5H875.5V255.5H877.9V255.7H880.3V256.8H882.7V256.8H885.1V256.1H887.4V253.9H889.8V253.8H892.2V250.1H894.6V248.1H897.0V246.1H899.3V246.1H901.7V246.1H904.1V246.3H906.5V247.6H908.9V251.0H911.2V251.8H913.6V252.0H916.0V253.0H918.4V252.7H920.8V254.7H923.2V255.4H925.5V257.4H927.9V257.3H930.3V257.9H932.7V257.9H935.1V258.4H937.4V258.4H939.8V258.5H942.2V258.5H944.6V258.3H947.0V258.1H949.4V257.9H951.7V257.7H954.1V257.3H956.5V256.0H958.9V255.7H961.3V255.4H963.6V254.7H966.0V253.4H968.4V251.9H970.8V251.7H973.2V252.8H975.5V249.5H977.9V249.3H980.3V249.9H982.7V246.1H985.1V246.1H987.5V250.9H989.8V251.9H992.2V254.3H994.6V257.8H997.0V259.4H999.4V259.6H1001.7V259.6H1004.1V259.6H1006.5V259.6H1008.9V257.8H1011.3V257.8H1013.6V257.7H1016.0V258.3H1018.4V259.4H1020.8V259.4H1023.2V259.4H1025.5V256.4H1027.9V256.9H1030.3V257.4H1032.7V257.7H1035.1V258.3H1037.5V257.8H1039.8V256.4H1042.2V257.0H1044.6V256.5H1047.0V255.2H1049.4V254.9H1051.7V255.9H1054.1V256.5H1056.5V255.1H1058.9V254.9H1061.3V254.1H1063.6V252.5H1066.0V248.8H1068.4V246.1H1070.8V246.2H1073.2V249.5H1075.6V249.5H1077.9V249.9H1080.3V251.1H1082.7V253.6H1085.1V255.1H1087.5V255.5H1089.8V256.1H1092.2V256.0H1094.6V257.0H1097.0V257.9H1099.4V256.3H1101.8V256.4H1104.1V258.6H1106.5V258.2H1108.9V258.6H1111.3V258.2H1113.7V258.2H1116.0V258.6H1118.4V258.6H1120.8V258.3H1123.2V258.2H1125.6V257.1H1127.9V254.6H1130.3V254.7H1132.7V256.3H1135.1V256.2H1137.5V252.9H1139.8V254.1H1142.2V253.4H1144.6V253.1H1147.0V251.7H1149.4V250.3H1151.8V246.2H1154.1V245.1H1156.5V245.1H1158.9V251.1H1161.3V254.7H1163.7V257.5H1166.0V258.3H1168.4V258.0H1170.8V258.1H1173.2V257.8H1175.6V257.8H1177.9V257.7H1180.3V256.0H1182.7V255.9H1185.1V255.1H1187.5V256.2H1189.9V257.3H1192.2V256.6H1194.6V256.6H1197.0V260.6Z" fill="url(#st6)"/>
<rect x="853.4" y="259.9" width="344.3" height="1.5" fill="#141414"/>
<path d="M854.1 280.7V276.5H856.5V277.0H858.9V277.5H861.2V277.8H863.6V278.4H866.0V277.9H868.4V276.5H870.8V277.1H873.2V276.6H875.5V275.3H877.9V275.0H880.3V276.0H882.7V276.6H885.1V275.2H887.4V275.0H889.8V274.2H892.2V272.6H894.6V268.9H897.0V266.2H899.3V266.3H901.7V269.6H904.1V269.6H906.5V270.0H908.9V271.2H911.2V273.7H913.6V275.2H916.0V275.6H918.4V276.2H920.8V276.1H923.2V277.1H925.5V278.0H927.9V276.4H930.3V276.5H932.7V278.7H935.1V278.3H937.4V278.7H939.8V278.3H942.2V278.3H944.6V278.7H947.0V278.7H949.4V278.4H951.7V278.3H954.1V277.2H956.5V274.7H958.9V274.8H961.3V276.4H963.6V276.3H966.0V273.0H968.4V274.2H970.8V273.5H973.2V273.2H975.5V271.8H977.9V270.4H980.3V266.3H982.7V265.2H985.1V265.2H987.5V271.2H989.8V274.8H992.2V277.6H994.6V278.4H997.0V278.1H999.4V278.2H1001.7V277.9H1004.1V277.9H1006.5V277.8H1008.9V276.1H1011.3V276.0H1013.6V275.2H1016.0V276.3H1018.4V277.4H1020.8V276.7H1023.2V276.7H1025.5V278.1H1027.9V278.1H1030.3V277.6H1032.7V277.9H1035.1V278.4H1037.5V275.7H1039.8V274.8H1042.2V278.1H1044.6V276.3H1047.0V275.3H1049.4V275.0H1051.7V274.1H1054.1V274.4H1056.5V273.8H1058.9V273.9H1061.3V273.1H1063.6V269.9H1066.0V265.4H1068.4V265.4H1070.8V265.1H1073.2V267.5H1075.6V268.2H1077.9V268.8H1080.3V270.1H1082.7V268.6H1085.1V271.4H1087.5V272.8H1089.8V273.0H1092.2V271.6H1094.6V270.1H1097.0V271.1H1099.4V271.0H1101.8V270.6H1104.1V272.1H1106.5V272.0H1108.9V272.1H1111.3V272.1H1113.7V272.2H1116.0V270.8H1118.4V273.0H1120.8V271.1H1123.2V269.7H1125.6V268.9H1127.9V268.9H1130.3V267.8H1132.7V268.1H1135.1V268.7H1137.5V269.1H1139.8V267.9H1142.2V270.0H1144.6V270.3H1147.0V267.3H1149.4V268.3H1151.8V267.2H1154.1V267.0H1156.5V269.7H1158.9V270.8H1161.3V270.8H1163.7V269.7H1166.0V271.0H1168.4V272.5H1170.8V274.6H1173.2V275.1H1175.6V274.5H1177.9V275.9H1180.3V274.6H1182.7V275.3H1185.1V274.6H1187.5V275.3H1189.9V274.8H1192.2V275.2H1194.6V274.6H1197.0V280.7Z" fill="url(#st6)"/>
<rect x="853.4" y="280.0" width="344.3" height="1.5" fill="#141414"/>
<path d="M854.1 300.8V298.2H856.5V298.2H858.9V297.7H861.2V298.0H863.6V298.5H866.0V295.8H868.4V294.9H870.8V298.2H873.2V296.4H875.5V295.4H877.9V295.1H880.3V294.2H882.7V294.5H885.1V293.9H887.4V294.0H889.8V293.2H892.2V290.0H894.6V285.5H897.0V285.5H899.3V285.2H901.7V287.6H904.1V288.3H906.5V288.9H908.9V290.2H911.2V288.7H913.6V291.5H916.0V292.9H918.4V293.1H920.8V291.7H923.2V290.2H925.5V291.2H927.9V291.1H930.3V290.7H932.7V292.2H935.1V292.1H937.4V292.2H939.8V292.2H942.2V292.3H944.6V290.9H947.0V293.1H949.4V291.2H951.7V289.8H954.1V289.0H956.5V289.0H958.9V287.9H961.3V288.2H963.6V288.8H966.0V289.2H968.4V288.0H970.8V290.1H973.2V290.4H975.5V287.4H977.9V288.4H980.3V287.3H982.7V287.1H985.1V289.8H987.5V290.9H989.8V290.9H992.2V289.8H994.6V291.1H997.0V292.6H999.4V294.7H1001.7V295.2H1004.1V294.6H1006.5V296.0H1008.9V294.7H1011.3V295.4H1013.6V294.7H1016.0V295.4H1018.4V294.9H1020.8V295.3H1023.2V294.7H1025.5V294.6H1027.9V295.4H1030.3V295.4H1032.7V295.8H1035.1V293.4H1037.5V293.3H1039.8V294.7H1042.2V295.0H1044.6V295.6H1047.0V294.2H1049.4V294.0H1051.7V293.6H1054.1V293.1H1056.5V293.5H1058.9V293.0H1061.3V293.7H1063.6V294.2H1066.0V294.8H1068.4V293.6H1070.8V294.8H1073.2V294.6H1075.6V293.6H1077.9V293.7H1080.3V295.5H1082.7V295.8H1085.1V295.1H1087.5V295.5H1089.8V296.7H1092.2V296.1H1094.6V296.3H1097.0V294.9H1099.4V295.4H1101.8V296.8H1104.1V296.1H1106.5V296.9H1108.9V294.8H1111.3V293.8H1113.7V293.6H1116.0V292.8H1118.4V291.7H1120.8V292.1H1123.2V292.7H1125.6V290.5H1127.9V291.1H1130.3V289.6H1132.7V289.1H1135.1V289.6H1137.5V287.0H1139.8V287.5H1142.2V289.1H1144.6V288.0H1147.0V290.1H1149.4V289.2H1151.8V290.3H1154.1V292.4H1156.5V292.7H1158.9V293.9H1161.3V293.1H1163.7V293.4H1166.0V295.8H1168.4V295.4H1170.8V295.4H1173.2V293.5H1175.6V293.5H1177.9V293.9H1180.3V293.3H1182.7V296.3H1185.1V294.9H1187.5V295.3H1189.9V295.0H1192.2V296.0H1194.6V295.1H1197.0V300.8Z" fill="url(#st6)"/>
<rect x="853.4" y="300.1" width="344.3" height="1.5" fill="#141414"/>
<path d="M854.1 320.9V314.7H856.5V315.5H858.9V315.5H861.2V315.9H863.6V313.5H866.0V313.4H868.4V314.8H870.8V315.1H873.2V315.7H875.5V314.3H877.9V314.1H880.3V313.7H882.7V313.2H885.1V313.6H887.4V313.1H889.8V313.8H892.2V314.3H894.6V314.9H897.0V313.7H899.3V314.9H901.7V314.7H904.1V313.7H906.5V313.8H908.9V315.6H911.2V315.9H913.6V315.2H916.0V315.6H918.4V316.8H920.8V316.2H923.2V316.4H925.5V315.0H927.9V315.5H930.3V316.9H932.7V316.2H935.1V317.0H937.4V314.9H939.8V313.9H942.2V313.7H944.6V312.9H947.0V311.8H949.4V312.2H951.7V312.8H954.1V310.6H956.5V311.2H958.9V309.7H961.3V309.2H963.6V309.7H966.0V307.1H968.4V307.6H970.8V309.2H973.2V308.1H975.5V310.2H977.9V309.3H980.3V310.4H982.7V312.5H985.1V312.8H987.5V314.0H989.8V313.2H992.2V313.5H994.6V315.9H997.0V315.5H999.4V315.5H1001.7V313.6H1004.1V313.6H1006.5V314.0H1008.9V313.4H1011.3V316.4H1013.6V315.0H1016.0V315.4H1018.4V315.1H1020.8V316.1H1023.2V315.2H1025.5V316.9H1027.9V317.3H1030.3V316.7H1032.7V317.6H1035.1V316.4H1037.5V315.2H1039.8V314.7H1042.2V315.0H1044.6V314.4H1047.0V314.5H1049.4V313.4H1051.7V314.9H1054.1V314.4H1056.5V314.4H1058.9V315.2H1061.3V315.2H1063.6V315.6H1066.0V316.0H1068.4V315.0H1070.8V315.7H1073.2V316.1H1075.6V316.6H1077.9V316.6H1080.3V316.6H1082.7V316.9H1085.1V317.7H1087.5V316.7H1089.8V316.9H1092.2V317.0H1094.6V316.5H1097.0V316.1H1099.4V315.4H1101.8V314.7H1104.1V314.0H1106.5V314.5H1108.9V314.2H1111.3V314.5H1113.7V314.3H1116.0V313.2H1118.4V311.5H1120.8V310.8H1123.2V310.5H1125.6V311.4H1127.9V310.8H1130.3V310.2H1132.7V311.2H1135.1V312.8H1137.5V312.2H1139.8V313.6H1142.2V310.7H1144.6V311.7H1147.0V313.2H1149.4V315.0H1151.8V315.1H1154.1V313.8H1156.5V314.7H1158.9V315.1H1161.3V315.3H1163.7V315.9H1166.0V315.4H1168.4V315.9H1170.8V315.5H1173.2V315.3H1175.6V316.1H1177.9V316.1H1180.3V316.0H1182.7V315.3H1185.1V316.5H1187.5V316.4H1189.9V316.7H1192.2V316.6H1194.6V317.1H1197.0V320.9Z" fill="url(#st6)"/>
<rect x="853.4" y="320.2" width="344.3" height="1.5" fill="#141414"/>
<path d="M854.1 341.0V337.0H856.5V337.4H858.9V336.8H861.2V337.7H863.6V336.5H866.0V335.3H868.4V334.8H870.8V335.1H873.2V334.5H875.5V334.6H877.9V333.5H880.3V335.0H882.7V334.5H885.1V334.5H887.4V335.3H889.8V335.3H892.2V335.7H894.6V336.1H897.0V335.1H899.3V335.8H901.7V336.2H904.1V336.7H906.5V336.7H908.9V336.7H911.2V337.0H913.6V337.8H916.0V336.8H918.4V337.0H920.8V337.1H923.2V336.6H925.5V336.2H927.9V335.5H930.3V334.8H932.7V334.1H935.1V334.6H937.4V334.3H939.8V334.6H942.2V334.4H944.6V333.3H947.0V331.6H949.4V330.9H951.7V330.6H954.1V331.5H956.5V330.9H958.9V330.3H961.3V331.3H963.6V332.9H966.0V332.3H968.4V333.7H970.8V330.8H973.2V331.8H975.5V333.3H977.9V335.1H980.3V335.2H982.7V333.9H985.1V334.8H987.5V335.2H989.8V335.4H992.2V336.0H994.6V335.5H997.0V336.0H999.4V335.6H1001.7V335.4H1004.1V336.2H1006.5V336.2H1008.9V336.1H1011.3V335.4H1013.6V336.6H1016.0V336.5H1018.4V336.8H1020.8V336.7H1023.2V337.2H1025.5V337.2H1027.9V337.3H1030.3V336.7H1032.7V335.1H1035.1V335.5H1037.5V335.0H1039.8V335.0H1042.2V336.2H1044.6V335.7H1047.0V334.4H1049.4V336.9H1051.7V336.8H1054.1V338.3H1056.5V337.6H1058.9V337.8H1061.3V337.4H1063.6V337.7H1066.0V337.7H1068.4V337.7H1070.8V338.0H1073.2V338.0H1075.6V338.0H1077.9V338.6H1080.3V337.8H1082.7V337.8H1085.1V337.3H1087.5V336.7H1089.8V336.6H1092.2V336.3H1094.6V336.3H1097.0V335.4H1099.4V335.3H1101.8V334.5H1104.1V332.9H1106.5V334.1H1108.9V334.2H1111.3V332.6H1113.7V332.9H1116.0V332.7H1118.4V332.0H1120.8V330.8H1123.2V330.9H1125.6V331.9H1127.9V332.3H1130.3V332.4H1132.7V333.1H1135.1V333.2H1137.5V334.7H1139.8V336.1H1142.2V335.8H1144.6V336.5H1147.0V336.6H1149.4V336.2H1151.8V336.4H1154.1V336.5H1156.5V336.5H1158.9V336.5H1161.3V336.8H1163.7V337.0H1166.0V337.5H1168.4V337.9H1170.8V337.7H1173.2V338.1H1175.6V337.9H1177.9V337.8H1180.3V337.4H1182.7V338.0H1185.1V338.0H1187.5V337.3H1189.9V335.4H1192.2V335.3H1194.6V336.0H1197.0V341.0Z" fill="url(#st6)"/>
<rect x="853.4" y="340.3" width="344.3" height="1.5" fill="#141414"/>
<path d="M854.1 361.1V357.3H856.5V357.4H858.9V356.8H861.2V355.2H863.6V355.6H866.0V355.1H868.4V355.1H870.8V356.3H873.2V355.8H875.5V354.5H877.9V357.0H880.3V356.9H882.7V358.4H885.1V357.7H887.4V357.9H889.8V357.5H892.2V357.8H894.6V357.8H897.0V357.8H899.3V358.1H901.7V358.1H904.1V358.1H906.5V358.7H908.9V357.9H911.2V357.9H913.6V357.4H916.0V356.8H918.4V356.7H920.8V356.4H923.2V356.4H925.5V355.5H927.9V355.4H930.3V354.6H932.7V353.0H935.1V354.2H937.4V354.3H939.8V352.7H942.2V353.0H944.6V352.8H947.0V352.1H949.4V350.9H951.7V351.0H954.1V352.0H956.5V352.4H958.9V352.5H961.3V353.2H963.6V353.3H966.0V354.8H968.4V356.2H970.8V355.9H973.2V356.6H975.5V356.7H977.9V356.3H980.3V356.5H982.7V356.6H985.1V356.6H987.5V356.6H989.8V356.9H992.2V357.1H994.6V357.6H997.0V358.0H999.4V357.8H1001.7V358.2H1004.1V358.0H1006.5V357.9H1008.9V357.5H1011.3V358.1H1013.6V358.1H1016.0V357.4H1018.4V355.5H1020.8V355.4H1023.2V356.1H1025.5V355.8H1027.9V355.0H1030.3V355.5H1032.7V355.4H1035.1V355.9H1037.5V356.1H1039.8V356.6H1042.2V356.3H1044.6V358.0H1047.0V357.7H1049.4V358.3H1051.7V357.9H1054.1V357.8H1056.5V357.3H1058.9V357.3H1061.3V356.3H1063.6V355.6H1066.0V353.2H1068.4V354.1H1070.8V353.1H1073.2V354.3H1075.6V356.9H1077.9V355.6H1080.3V355.0H1082.7V354.3H1085.1V352.4H1087.5V352.6H1089.8V355.0H1092.2V353.7H1094.6V352.9H1097.0V354.2H1099.4V354.0H1101.8V352.0H1104.1V351.0H1106.5V349.1H1108.9V352.9H1111.3V351.6H1113.7V351.1H1116.0V351.4H1118.4V350.7H1120.8V352.0H1123.2V353.5H1125.6V351.8H1127.9V353.8H1130.3V355.9H1132.7V353.7H1135.1V356.1H1137.5V356.5H1139.8V356.3H1142.2V356.5H1144.6V356.4H1147.0V356.8H1149.4V356.3H1151.8V356.8H1154.1V357.8H1156.5V356.5H1158.9V356.9H1161.3V357.2H1163.7V357.0H1166.0V358.4H1168.4V358.2H1170.8V358.6H1173.2V357.3H1175.6V358.5H1177.9V357.7H1180.3V356.1H1182.7V355.1H1185.1V354.7H1187.5V354.6H1189.9V353.5H1192.2V354.0H1194.6V354.3H1197.0V361.1Z" fill="url(#st6)"/>
<rect x="853.4" y="360.4" width="344.3" height="1.5" fill="#141414"/>
<path d="M854.1 381.2V375.9H856.5V375.1H858.9V375.6H861.2V375.5H863.6V376.0H866.0V376.2H868.4V376.7H870.8V376.4H873.2V378.1H875.5V377.8H877.9V378.4H880.3V378.0H882.7V377.9H885.1V377.4H887.4V377.4H889.8V376.4H892.2V375.7H894.6V373.3H897.0V374.2H899.3V373.2H901.7V374.4H904.1V377.0H906.5V375.7H908.9V375.1H911.2V374.4H913.6V372.5H916.0V372.7H918.4V375.1H920.8V373.8H923.2V373.0H925.5V374.3H927.9V374.1H930.3V372.1H932.7V371.1H935.1V369.2H937.4V373.0H939.8V371.7H942.2V371.2H944.6V371.5H947.0V370.8H949.4V372.1H951.7V373.6H954.1V371.9H956.5V373.9H958.9V376.0H961.3V373.8H963.6V376.2H966.0V376.6H968.4V376.4H970.8V376.6H973.2V376.5H975.5V376.9H977.9V376.4H980.3V376.9H982.7V377.9H985.1V376.6H987.5V377.0H989.8V377.3H992.2V377.1H994.6V378.5H997.0V378.3H999.4V378.7H1001.7V377.4H1004.1V378.6H1006.5V377.8H1008.9V376.2H1011.3V375.2H1013.6V374.8H1016.0V374.7H1018.4V373.6H1020.8V374.1H1023.2V374.4H1025.5V376.0H1027.9V376.2H1030.3V376.2H1032.7V375.3H1035.1V376.6H1037.5V375.1H1039.8V375.4H1042.2V376.2H1044.6V376.1H1047.0V376.2H1049.4V375.5H1051.7V376.3H1054.1V376.2H1056.5V376.4H1058.9V378.0H1061.3V377.5H1063.6V376.2H1066.0V375.8H1068.4V376.1H1070.8V375.0H1073.2V373.3H1075.6V373.2H1077.9V374.0H1080.3V375.8H1082.7V375.0H1085.1V373.9H1087.5V373.4H1089.8V371.7H1092.2V369.9H1094.6V370.1H1097.0V370.6H1099.4V370.0H1101.8V371.9H1104.1V372.1H1106.5V373.7H1108.9V371.6H1111.3V373.2H1113.7V372.7H1116.0V373.4H1118.4V375.8H1120.8V374.0H1123.2V374.9H1125.6V374.3H1127.9V374.4H1130.3V374.1H1132.7V376.1H1135.1V376.0H1137.5V376.3H1139.8V376.4H1142.2V376.9H1144.6V376.6H1147.0V376.7H1149.4V376.0H1151.8V376.8H1154.1V376.8H1156.5V375.9H1158.9V376.8H1161.3V377.6H1163.7V376.9H1166.0V377.4H1168.4V377.4H1170.8V376.1H1173.2V375.9H1175.6V375.8H1177.9V374.8H1180.3V375.8H1182.7V374.7H1185.1V375.6H1187.5V374.7H1189.9V374.8H1192.2V375.9H1194.6V374.7H1197.0V381.2Z" fill="url(#st6)"/>
<rect x="853.4" y="380.5" width="344.3" height="1.5" fill="#141414"/>
<path d="M854.1 401.3V396.1H856.5V396.3H858.9V396.3H861.2V395.4H863.6V396.7H866.0V395.2H868.4V395.5H870.8V396.3H873.2V396.2H875.5V396.3H877.9V395.6H880.3V396.4H882.7V396.3H885.1V396.5H887.4V398.1H889.8V397.6H892.2V396.3H894.6V395.9H897.0V396.2H899.3V395.1H901.7V393.4H904.1V393.3H906.5V394.1H908.9V395.9H911.2V395.1H913.6V394.0H916.0V393.5H918.4V391.8H920.8V390.0H923.2V390.2H925.5V390.7H927.9V390.1H930.3V392.0H932.7V392.2H935.1V393.8H937.4V391.7H939.8V393.3H942.2V392.8H944.6V393.5H947.0V395.9H949.4V394.1H951.7V395.0H954.1V394.4H956.5V394.5H958.9V394.2H961.3V396.2H963.6V396.1H966.0V396.4H968.4V396.5H970.8V397.0H973.2V396.7H975.5V396.8H977.9V396.1H980.3V396.9H982.7V396.9H985.1V396.0H987.5V396.9H989.8V397.7H992.2V397.0H994.6V397.5H997.0V397.5H999.4V396.2H1001.7V396.0H1004.1V395.9H1006.5V394.9H1008.9V395.9H1011.3V394.8H1013.6V395.7H1016.0V394.8H1018.4V394.9H1020.8V396.0H1023.2V394.8H1025.5V398.6H1027.9V398.0H1030.3V396.4H1032.7V396.4H1035.1V396.3H1037.5V398.4H1039.8V398.9H1042.2V396.3H1044.6V396.5H1047.0V397.0H1049.4V398.6H1051.7V398.7H1054.1V398.4H1056.5V397.4H1058.9V396.4H1061.3V395.5H1063.6V395.7H1066.0V395.4H1068.4V395.6H1070.8V395.3H1073.2V395.3H1075.6V395.7H1077.9V395.6H1080.3V393.8H1082.7V393.3H1085.1V394.8H1087.5V393.4H1089.8V392.6H1092.2V392.4H1094.6V392.3H1097.0V393.4H1099.4V394.4H1101.8V395.2H1104.1V396.3H1106.5V395.3H1108.9V395.0H1111.3V395.4H1113.7V396.2H1116.0V395.9H1118.4V397.8H1120.8V397.3H1123.2V397.3H1125.6V398.8H1127.9V398.9H1130.3V399.1H1132.7V399.3H1135.1V399.3H1137.5V398.9H1139.8V399.1H1142.2V399.3H1144.6V398.8H1147.0V398.9H1149.4V398.9H1151.8V397.3H1154.1V396.4H1156.5V397.3H1158.9V397.9H1161.3V398.3H1163.7V398.1H1166.0V397.9H1168.4V397.6H1170.8V397.7H1173.2V397.0H1175.6V397.5H1177.9V397.1H1180.3V396.0H1182.7V396.4H1185.1V395.5H1187.5V396.5H1189.9V397.5H1192.2V397.3H1194.6V397.4H1197.0V401.3Z" fill="url(#st6)"/>
<rect x="853.4" y="400.6" width="344.3" height="1.5" fill="#141414"/>
<path d="M854.1 421.4V418.7H856.5V418.1H858.9V416.5H861.2V416.5H863.6V416.4H866.0V418.5H868.4V419.0H870.8V416.4H873.2V416.6H875.5V417.1H877.9V418.7H880.3V418.8H882.7V418.5H885.1V417.5H887.4V416.5H889.8V415.6H892.2V415.8H894.6V415.5H897.0V415.7H899.3V415.4H901.7V415.4H904.1V415.8H906.5V415.7H908.9V413.9H911.2V413.4H913.6V414.9H916.0V413.5H918.4V412.7H920.8V412.5H923.2V412.4H925.5V413.5H927.9V414.5H930.3V415.3H932.7V416.4H935.1V415.4H937.4V415.1H939.8V415.5H942.2V416.3H944.6V416.0H947.0V417.9H949.4V417.4H951.7V417.4H954.1V418.9H956.5V419.0H958.9V419.2H961.3V419.4H963.6V419.4H966.0V419.0H968.4V419.2H970.8V419.4H973.2V418.9H975.5V419.0H977.9V419.0H980.3V417.4H982.7V416.5H985.1V417.4H987.5V418.0H989.8V418.4H992.2V418.2H994.6V418.0H997.0V417.7H999.4V417.8H1001.7V417.1H1004.1V417.6H1006.5V417.2H1008.9V416.1H1011.3V416.5H1013.6V415.6H1016.0V416.6H1018.4V417.6H1020.8V417.4H1023.2V417.5H1025.5V417.3H1027.9V418.1H1030.3V417.0H1032.7V417.1H1035.1V416.6H1037.5V416.6H1039.8V417.3H1042.2V416.6H1044.6V416.6H1047.0V416.7H1049.4V416.3H1051.7V417.3H1054.1V417.0H1056.5V416.2H1058.9V417.5H1061.3V417.9H1063.6V418.0H1066.0V417.6H1068.4V415.8H1070.8V416.2H1073.2V415.8H1075.6V414.9H1077.9V417.7H1080.3H1080.3V421.4Z" fill="url(#st6)"/>
<rect x="853.4" y="420.7" width="344.3" height="1.5" fill="#141414"/>
<rect x="853.6" y="244.5" width="343.9" height="177.6" fill="none" stroke="#303030" stroke-width="1.25"/>
<polygon points="968.5,302.2 1142.0,302.2 1099.3,420.6 926.1,420.6" fill="none" stroke="#e0212b" stroke-width="2.2" stroke-linejoin="miter"/>
<g fill="#808080" fill-opacity="0.43" stroke="#707070" stroke-opacity="0.55" stroke-width="0.8"><circle cx="183.8" cy="614.4" r="5.9"/><circle cx="190.7" cy="614.4" r="5.9"/><circle cx="183.8" cy="639.6" r="5.9"/><circle cx="190.7" cy="639.6" r="5.9"/><circle cx="171.5" cy="664.8" r="5.9"/><circle cx="177.8" cy="664.8" r="5.9"/><circle cx="187.3" cy="664.8" r="5.9"/><circle cx="196.7" cy="664.8" r="5.9"/><circle cx="203.3" cy="664.8" r="5.9"/><circle cx="180.7" cy="677.4" r="5.9"/><circle cx="187.0" cy="677.4" r="5.9"/><circle cx="193.3" cy="677.4" r="5.9"/><circle cx="187.0" cy="702.6" r="5.9"/><circle cx="187.0" cy="727.8" r="5.9"/><circle cx="276.0" cy="639.6" r="5.9"/><circle cx="260.0" cy="677.4" r="5.9"/><circle cx="276.0" cy="677.4" r="5.9"/><circle cx="292.0" cy="677.4" r="5.9"/><circle cx="260.0" cy="702.6" r="5.9"/><circle cx="276.0" cy="702.6" r="5.9"/><circle cx="292.0" cy="702.6" r="5.9"/><circle cx="260.0" cy="727.8" r="5.9"/><circle cx="276.0" cy="727.8" r="5.9"/><circle cx="292.0" cy="727.8" r="5.9"/><circle cx="268.0" cy="740.4" r="5.9"/><circle cx="284.0" cy="740.4" r="5.9"/><circle cx="276.0" cy="765.6" r="5.9"/><circle cx="397.9" cy="614.6" r="5.9"/><circle cx="403.5" cy="614.6" r="5.9"/><circle cx="414.2" cy="614.6" r="5.9"/><circle cx="419.8" cy="614.6" r="5.9"/><circle cx="425.3" cy="614.6" r="5.9"/><circle cx="408.7" cy="619.5" r="5.9"/><circle cx="419.5" cy="632.4" r="5.9"/><circle cx="392.7" cy="639.2" r="5.9"/><circle cx="398.2" cy="639.2" r="5.9"/><circle cx="403.5" cy="639.2" r="5.9"/><circle cx="425.3" cy="639.2" r="5.9"/><circle cx="419.5" cy="647.9" r="5.9"/><circle cx="397.9" cy="657.0" r="5.9"/><circle cx="408.7" cy="657.0" r="5.9"/><circle cx="403.5" cy="664.8" r="5.9"/><circle cx="419.5" cy="664.8" r="5.9"/><circle cx="397.9" cy="677.0" r="5.9"/><circle cx="414.2" cy="677.0" r="5.9"/><circle cx="419.5" cy="677.0" r="5.9"/><circle cx="408.7" cy="684.0" r="5.9"/><circle cx="408.7" cy="702.4" r="5.9"/><circle cx="484.2" cy="665.1" r="5.9"/><circle cx="490.7" cy="665.1" r="5.9"/><circle cx="497.1" cy="665.1" r="5.9"/><circle cx="503.6" cy="665.1" r="5.9"/><circle cx="510.1" cy="665.1" r="5.9"/><circle cx="484.2" cy="677.1" r="5.9"/><circle cx="490.7" cy="677.1" r="5.9"/><circle cx="497.1" cy="677.1" r="5.9"/><circle cx="503.6" cy="677.1" r="5.9"/><circle cx="510.1" cy="677.1" r="5.9"/><circle cx="481.4" cy="702.4" r="5.9"/><circle cx="487.9" cy="702.4" r="5.9"/><circle cx="513.5" cy="702.4" r="5.9"/><circle cx="493.7" cy="711.0" r="5.9"/><circle cx="507.0" cy="711.0" r="5.9"/><circle cx="487.3" cy="715.7" r="5.9"/><circle cx="500.2" cy="718.7" r="5.9"/><circle cx="493.7" cy="728.0" r="5.9"/><circle cx="497.1" cy="742.8" r="5.9"/><circle cx="497.1" cy="799.5" r="5.9"/><circle cx="629.3" cy="577.0" r="5.9"/><circle cx="626.2" cy="601.7" r="5.9"/><circle cx="633.0" cy="601.7" r="5.9"/><circle cx="622.8" cy="614.6" r="5.9"/><circle cx="629.3" cy="614.6" r="5.9"/><circle cx="636.1" cy="614.6" r="5.9"/><circle cx="626.0" cy="627.0" r="5.9"/><circle cx="633.0" cy="627.0" r="5.9"/><circle cx="613.9" cy="639.3" r="5.9"/><circle cx="620.0" cy="639.3" r="5.9"/><circle cx="626.2" cy="639.3" r="5.9"/><circle cx="633.0" cy="639.3" r="5.9"/><circle cx="639.2" cy="639.3" r="5.9"/><circle cx="646.0" cy="639.3" r="5.9"/><circle cx="619.8" cy="664.9" r="5.9"/><circle cx="626.2" cy="664.9" r="5.9"/><circle cx="633.0" cy="664.9" r="5.9"/><circle cx="639.5" cy="664.9" r="5.9"/><circle cx="719.0" cy="614.3" r="5.9"/><circle cx="719.0" cy="639.3" r="5.9"/><circle cx="719.0" cy="664.9" r="5.9"/><circle cx="703.0" cy="677.2" r="5.9"/><circle cx="711.0" cy="677.2" r="5.9"/><circle cx="719.0" cy="677.2" r="5.9"/><circle cx="727.0" cy="677.2" r="5.9"/><circle cx="735.0" cy="677.2" r="5.9"/><circle cx="706.7" cy="702.5" r="5.9"/><circle cx="714.7" cy="702.5" r="5.9"/><circle cx="723.0" cy="702.5" r="5.9"/><circle cx="731.0" cy="702.5" r="5.9"/><circle cx="719.0" cy="728.0" r="5.9"/><circle cx="719.0" cy="740.4" r="5.9"/><circle cx="851.5" cy="536.5" r="5.9"/><circle cx="851.5" cy="572.4" r="5.9"/><circle cx="843.6" cy="587.8" r="5.9"/><circle cx="859.4" cy="597.0" r="5.9"/><circle cx="843.6" cy="601.8" r="5.9"/><circle cx="835.6" cy="614.5" r="5.9"/><circle cx="843.6" cy="614.5" r="5.9"/><circle cx="859.4" cy="614.5" r="5.9"/><circle cx="851.5" cy="620.3" r="5.9"/><circle cx="851.5" cy="653.3" r="5.9"/><circle cx="835.6" cy="656.5" r="5.9"/><circle cx="843.6" cy="656.5" r="5.9"/><circle cx="859.4" cy="656.5" r="5.9"/><circle cx="867.4" cy="656.5" r="5.9"/><circle cx="843.6" cy="677.1" r="5.9"/><circle cx="859.4" cy="677.1" r="5.9"/><circle cx="851.5" cy="681.1" r="5.9"/><circle cx="843.6" cy="698.3" r="5.9"/><circle cx="851.5" cy="698.3" r="5.9"/><circle cx="859.4" cy="698.3" r="5.9"/><circle cx="855.5" cy="719.4" r="5.9"/><circle cx="847.5" cy="723.4" r="5.9"/><circle cx="948.0" cy="695.0" r="5.9"/><circle cx="932.0" cy="699.2" r="5.9"/><circle cx="956.2" cy="703.8" r="5.9"/><circle cx="923.8" cy="709.1" r="5.9"/><circle cx="939.9" cy="709.1" r="5.9"/><circle cx="948.0" cy="709.1" r="5.9"/><circle cx="932.0" cy="714.1" r="5.9"/><circle cx="939.9" cy="723.0" r="5.9"/><circle cx="948.0" cy="723.0" r="5.9"/><circle cx="939.9" cy="758.9" r="5.9"/><circle cx="930.4" cy="772.1" r="5.9"/><circle cx="949.1" cy="775.8" r="5.9"/><circle cx="932.0" cy="786.9" r="5.9"/><circle cx="948.0" cy="795.0" r="5.9"/><circle cx="923.8" cy="803.4" r="5.9"/><circle cx="939.9" cy="807.3" r="5.9"/><circle cx="932.0" cy="811.5" r="5.9"/><circle cx="948.0" cy="811.5" r="5.9"/><circle cx="923.8" cy="819.9" r="5.9"/><circle cx="939.9" cy="819.9" r="5.9"/><circle cx="948.0" cy="826.5" r="5.9"/><circle cx="932.0" cy="828.3" r="5.9"/><circle cx="939.9" cy="839.1" r="5.9"/><circle cx="948.0" cy="839.1" r="5.9"/><circle cx="932.0" cy="847.9" r="5.9"/><circle cx="1072.9" cy="595.3" r="5.9"/><circle cx="1072.9" cy="614.0" r="5.9"/><circle cx="1064.8" cy="621.1" r="5.9"/><circle cx="1081.0" cy="624.6" r="5.9"/><circle cx="1072.9" cy="635.2" r="5.9"/><circle cx="1057.0" cy="641.5" r="5.9"/><circle cx="1081.0" cy="640.4" r="5.9"/><circle cx="1089.1" cy="642.2" r="5.9"/><circle cx="1064.8" cy="645.7" r="5.9"/><circle cx="1081.0" cy="678.5" r="5.9"/><circle cx="1072.9" cy="687.3" r="5.9"/><circle cx="1072.9" cy="709.2" r="5.9"/><circle cx="1072.9" cy="722.9" r="5.9"/><circle cx="1161.3" cy="659.8" r="5.9"/><circle cx="1169.4" cy="681.3" r="5.9"/><circle cx="1153.2" cy="692.2" r="5.9"/><circle cx="1161.3" cy="692.2" r="5.9"/><circle cx="1169.4" cy="707.4" r="5.9"/><circle cx="1161.3" cy="713.7" r="5.9"/><circle cx="1153.2" cy="726.8" r="5.9"/><circle cx="1161.3" cy="725.7" r="5.9"/><circle cx="1169.4" cy="726.8" r="5.9"/><circle cx="1145.1" cy="733.8" r="5.9"/><circle cx="1177.5" cy="734.9" r="5.9"/><circle cx="1169.4" cy="741.0" r="5.9"/><circle cx="1161.3" cy="753.2" r="5.9"/><circle cx="1161.3" cy="774.4" r="5.9"/><circle cx="1169.4" cy="775.1" r="5.9"/><circle cx="1153.2" cy="783.9" r="5.9"/><circle cx="1169.4" cy="790.2" r="5.9"/><circle cx="1161.3" cy="798.3" r="5.9"/><circle cx="1161.3" cy="817.4" r="5.9"/><circle cx="1161.3" cy="844.8" r="5.9"/></g>
<line x1="187.3" y1="664.0" x2="276.0" y2="708.5" stroke="#979797" stroke-width="3.3" stroke-dasharray="6.2 8.7" stroke-dashoffset="-0.8" stroke-linecap="round"/>
<line x1="409.0" y1="647.1" x2="497.4" y2="697.3" stroke="#979797" stroke-width="3.3" stroke-dasharray="6.2 8.7" stroke-dashoffset="-0.8" stroke-linecap="round"/>
<line x1="629.3" y1="632.5" x2="719.0" y2="684.9" stroke="#979797" stroke-width="3.3" stroke-dasharray="6.2 8.7" stroke-dashoffset="-0.8" stroke-linecap="round"/>
<line x1="851.5" y1="637.5" x2="939.9" y2="773.0" stroke="#979797" stroke-width="3.3" stroke-dasharray="6.2 8.7" stroke-dashoffset="-0.8" stroke-linecap="round"/>
<line x1="1072.9" y1="651.0" x2="1161.3" y2="743.7" stroke="#979797" stroke-width="3.3" stroke-dasharray="6.2 8.7" stroke-dashoffset="-0.8" stroke-linecap="round"/>
<path d="M187.3 661.0V667.0M178.5 661.0h17.6M178.5 667.0h17.6" stroke="#0a8cff" stroke-width="2" fill="none"/>
<circle cx="187.3" cy="664.0" r="9.3" fill="#0a8cff"/>
<path d="M276.0 698.5V718.5M267.2 698.5h17.6M267.2 718.5h17.6" stroke="#ff0000" stroke-width="2" fill="none"/>
<circle cx="276.0" cy="708.5" r="9.3" fill="#ff0000"/>
<path d="M409.0 642.3V651.9M400.2 642.3h17.6M400.2 651.9h17.6" stroke="#0a8cff" stroke-width="2" fill="none"/>
<circle cx="409.0" cy="647.1" r="9.3" fill="#0a8cff"/>
<path d="M497.4 689.8V704.8M488.6 689.8h17.6M488.6 704.8h17.6" stroke="#ff0000" stroke-width="2" fill="none"/>
<circle cx="497.4" cy="697.3" r="9.3" fill="#ff0000"/>
<path d="M629.3 625.1V639.9M620.5 625.1h17.6M620.5 639.9h17.6" stroke="#0a8cff" stroke-width="2" fill="none"/>
<circle cx="629.3" cy="632.5" r="9.3" fill="#0a8cff"/>
<path d="M719.0 676.3V693.5M710.2 676.3h17.6M710.2 693.5h17.6" stroke="#ff0000" stroke-width="2" fill="none"/>
<circle cx="719.0" cy="684.9" r="9.3" fill="#ff0000"/>
<path d="M851.5 625.1V649.9M842.7 625.1h17.6M842.7 649.9h17.6" stroke="#0a8cff" stroke-width="2" fill="none"/>
<circle cx="851.5" cy="637.5" r="9.3" fill="#0a8cff"/>
<path d="M939.9 762.4V783.6M931.1 762.4h17.6M931.1 783.6h17.6" stroke="#ff0000" stroke-width="2" fill="none"/>
<circle cx="939.9" cy="773.0" r="9.3" fill="#ff0000"/>
<path d="M1072.9 641.0V661.0M1064.1 641.0h17.6M1064.1 661.0h17.6" stroke="#0a8cff" stroke-width="2" fill="none"/>
<circle cx="1072.9" cy="651.0" r="9.3" fill="#0a8cff"/>
<path d="M1161.3 733.2V754.2M1152.5 733.2h17.6M1152.5 754.2h17.6" stroke="#ff0000" stroke-width="2" fill="none"/>
<circle cx="1161.3" cy="743.7" r="9.3" fill="#ff0000"/>
<line x1="184.5" y1="588.9" x2="273.8" y2="588.9" stroke="#000" stroke-width="1.9"/>
<g transform="rotate(180 230.7 557.6)"><text x="230.7" y="557.6" font-size="29.5" letter-spacing="1.5" stroke="#000" stroke-width="0.6" text-anchor="middle" fill="#000">***</text></g>
<line x1="407.9" y1="584.6" x2="497.0" y2="584.6" stroke="#000" stroke-width="1.9"/>
<g transform="rotate(180 453.6 553.3)"><text x="453.6" y="553.3" font-size="29.5" letter-spacing="1.5" stroke="#000" stroke-width="0.6" text-anchor="middle" fill="#000">***</text></g>
<line x1="625.9" y1="542.8" x2="714.7" y2="542.8" stroke="#000" stroke-width="1.9"/>
<g transform="rotate(180 671.5 511.5)"><text x="671.5" y="511.5" font-size="29.5" letter-spacing="1.5" stroke="#000" stroke-width="0.6" text-anchor="middle" fill="#000">***</text></g>
<line x1="854.4" y1="509.6" x2="943.5" y2="509.6" stroke="#000" stroke-width="1.9"/>
<g transform="rotate(180 899.3 478.3)"><text x="899.3" y="478.3" font-size="29.5" letter-spacing="1.5" stroke="#000" stroke-width="0.6" text-anchor="middle" fill="#000">***</text></g>
<line x1="1076.4" y1="572.1" x2="1164.5" y2="572.1" stroke="#000" stroke-width="1.9"/>
<g transform="rotate(180 1121.3 540.8)"><text x="1121.3" y="540.8" font-size="29.5" letter-spacing="1.5" stroke="#000" stroke-width="0.6" text-anchor="middle" fill="#000">***</text></g>
<path d="M120.2 488.3H143.5V866.3H120.2M120.2 614.3H143.5M120.2 740.3H143.5" stroke="#000" stroke-width="2.3" fill="none" stroke-linecap="butt" stroke-linejoin="miter"/>
<circle cx="939.1" cy="464.5" r="13.9" fill="#0a8cff"/><circle cx="1070.7" cy="464.5" r="13.9" fill="#ff0000"/>
<rect x="0" y="39" width="33.7" height="177.9" fill="#ddecfc"/><rect x="0" y="244" width="33.7" height="177.4" fill="#f9d1d5"/>
<text x="140.95" y="24.9" font-size="33.4" fill="#000" font-style="italic" font-weight="bold" letter-spacing="-0.099">LPN-Gal4</text>
<text x="534.97" y="25.0" font-size="33.4" fill="#19b419" font-style="italic" font-weight="bold" letter-spacing="-0.793">LPN&gt;Kir2.1</text>
<text x="951.95" y="25.0" font-size="33.4" fill="#0c7a0c" font-style="italic" font-weight="bold" letter-spacing="-0.796">LPN&gt;TNT</text>
<text x="160.60" y="906.6" font-size="32.4" fill="#000" font-style="italic" letter-spacing="0.531">LPN-Gal4</text>
<text x="371.22" y="906.6" font-size="32.4" fill="#909090" font-style="italic" letter-spacing="0.656">UAS-Kir2.1</text>
<text x="595.06" y="906.6" font-size="32.4" fill="#1cb41c" font-style="italic" letter-spacing="-0.221">LPN&gt;Kir2.1</text>
<text x="825.16" y="906.6" font-size="32.4" fill="#909090" font-style="italic" letter-spacing="0.831">UAS-TNT</text>
<text x="1047.60" y="906.6" font-size="32.4" fill="#107810" font-style="italic" letter-spacing="-0.045">LPN&gt;TNT</text>
<text x="77.10" y="500.0" font-size="33" fill="#000" letter-spacing="0.500">25</text>
<text x="77.10" y="626.0" font-size="33" fill="#000" letter-spacing="0.500">24</text>
<text x="77.10" y="752.0" font-size="33" fill="#000" letter-spacing="0.500">23</text>
<text x="77.10" y="878.0" font-size="33" fill="#000" letter-spacing="0.500">22</text>
<text transform="translate(47.1 893.31) rotate(-90)" font-size="33" fill="#111" letter-spacing="0.387">Locomotor rhythm period (h)</text>
<text x="967.35" y="477.8" font-size="32.8" fill="#000" letter-spacing="-1.010">25<tspan font-family="Noto Sans CJK SC,sans-serif" font-size="29.5">º</tspan>C</text>
<text x="1099.78" y="477.8" font-size="32.8" fill="#000" letter-spacing="-1.344">30<tspan font-family="Noto Sans CJK SC,sans-serif" font-size="29.5">º</tspan>C</text>
<text transform="translate(28.7 166.28) rotate(-90)" font-size="28.8" fill="#222" letter-spacing="-0.996">25<tspan font-family="Noto Sans CJK SC,sans-serif" font-size="25.9">º</tspan>C</text>
<text transform="translate(28.7 362.22) rotate(-90)" font-size="28.8" fill="#222" letter-spacing="-1.522">30<tspan font-family="Noto Sans CJK SC,sans-serif" font-size="25.9">º</tspan>C</text>
<text x="1204.85" y="59.0" font-size="28.7" fill="#222">0</text>
<text x="1204.66" y="219.3" font-size="28.7" fill="#222">9</text>
<text transform="translate(1230.2 164.04) rotate(-90)" font-size="28.7" fill="#222" letter-spacing="0.242">Days</text>
<text x="1204.85" y="263.8" font-size="28.7" fill="#222">0</text>
<text x="1204.66" y="424.1" font-size="28.7" fill="#222">9</text>
<text transform="translate(1230.2 368.79) rotate(-90)" font-size="28.7" fill="#222" letter-spacing="0.237">Days</text>
</svg>
</body></html>
